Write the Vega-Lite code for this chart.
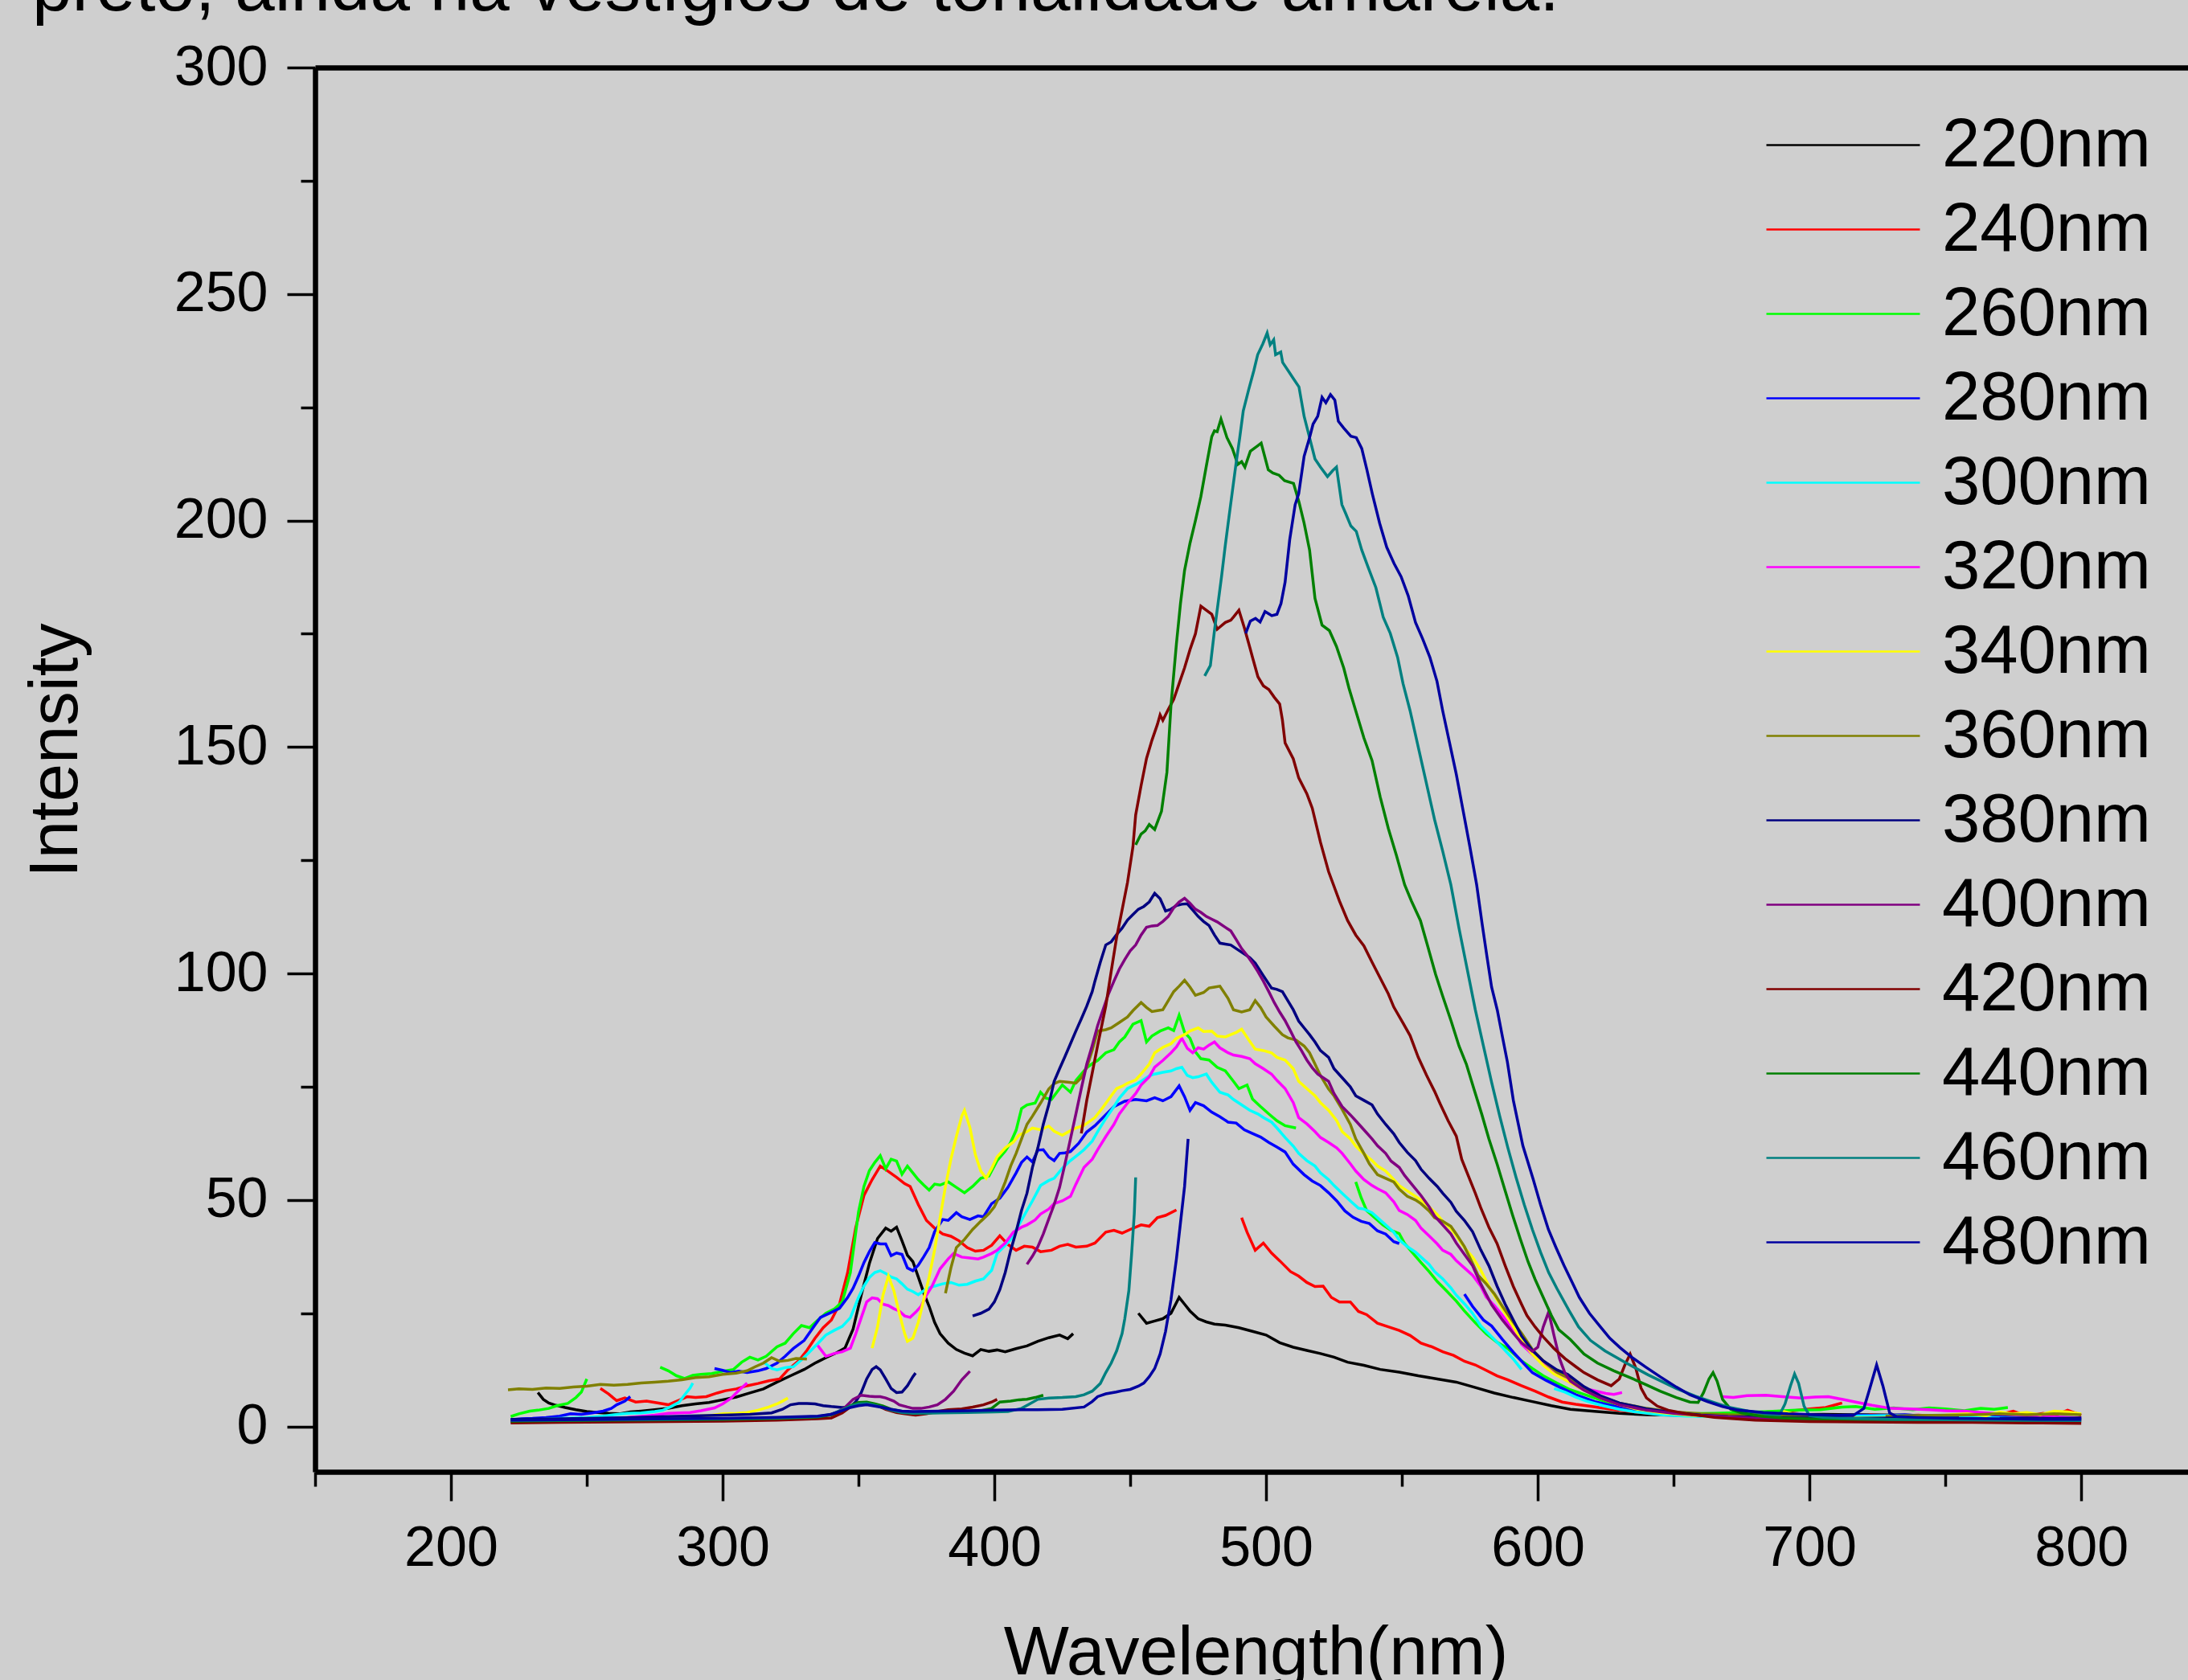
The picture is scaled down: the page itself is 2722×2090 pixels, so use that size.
{
"$schema":"https://vega.github.io/schema/vega-lite/v6.json",
"width":2330,"height":1747,
"autosize":{"type":"none"},
"padding":{"left":392,"top":84,"right":0,"bottom":259},
"background":"#cfcfcf",
"title":{"text":"preto, ainda há vestígios de tonalidade amarela.","anchor":"start","frame":"group","dx":-352,"dy":70,"offset":17,"baseline":"alphabetic","font":"Liberation Sans","fontSize":89,"fontWeight":"normal","color":"black"},
"config":{"view":{"stroke":null},
"axis":{"domainColor":"black","domainWidth":6.5,"tickColor":"black","tickWidth":3.5,"labelColor":"black","labelFont":"Liberation Sans","labelFontSize":70,"titleFont":"Liberation Sans","titleFontSize":86,"titleFontWeight":"normal","titleColor":"black","grid":false,"labelOverlap":false,"labelFlush":false,"labelBound":false}},
"layer":[
{"data":{"values":[
{"s":"220nm","g":1,"x":232,"y":7.5},{"s":"220nm","g":1,"x":234,"y":6},{"s":"220nm","g":1,"x":236,"y":5.2},{"s":"220nm","g":1,"x":238,"y":4.8},{"s":"220nm","g":1,"x":242,"y":4.2},{"s":"220nm","g":1,"x":246,"y":3.7},{"s":"220nm","g":1,"x":250,"y":3.3},{"s":"220nm","g":1,"x":254,"y":3.1},{"s":"220nm","g":1,"x":258,"y":2.9},{"s":"220nm","g":1,"x":262,"y":2.8},{"s":"220nm","g":1,"x":266,"y":3.2},{"s":"220nm","g":1,"x":270,"y":3.4},{"s":"220nm","g":1,"x":275,"y":3.7},{"s":"220nm","g":1,"x":280,"y":4},{"s":"220nm","g":1,"x":285,"y":4.6},{"s":"220nm","g":1,"x":290,"y":5},{"s":"220nm","g":1,"x":295,"y":5.3},{"s":"220nm","g":1,"x":300,"y":5.9},{"s":"220nm","g":1,"x":305,"y":6.5},{"s":"220nm","g":1,"x":310,"y":7.4},{"s":"220nm","g":1,"x":315,"y":8.3},{"s":"220nm","g":1,"x":320,"y":9.8},{"s":"220nm","g":1,"x":325,"y":11.2},{"s":"220nm","g":1,"x":330,"y":12.6},{"s":"220nm","g":1,"x":334,"y":14},{"s":"220nm","g":1,"x":338,"y":15.2},{"s":"220nm","g":1,"x":342,"y":16.3},{"s":"220nm","g":1,"x":345,"y":17.3},{"s":"220nm","g":1,"x":348,"y":21.5},{"s":"220nm","g":1,"x":351,"y":29},{"s":"220nm","g":1,"x":354,"y":36},{"s":"220nm","g":1,"x":357,"y":41.5},{"s":"220nm","g":1,"x":360,"y":43.8},{"s":"220nm","g":1,"x":362,"y":43.1},{"s":"220nm","g":1,"x":364,"y":44},{"s":"220nm","g":1,"x":366,"y":41},{"s":"220nm","g":1,"x":368,"y":37.8},{"s":"220nm","g":1,"x":370,"y":36.4},{"s":"220nm","g":1,"x":372,"y":33},{"s":"220nm","g":1,"x":374,"y":29.5},{"s":"220nm","g":1,"x":376,"y":26.5},{"s":"220nm","g":1,"x":378,"y":23},{"s":"220nm","g":1,"x":380,"y":20.5},{"s":"220nm","g":1,"x":383,"y":18.4},{"s":"220nm","g":1,"x":386,"y":17},{"s":"220nm","g":1,"x":389,"y":16.2},{"s":"220nm","g":1,"x":392,"y":15.6},{"s":"220nm","g":1,"x":395,"y":17},{"s":"220nm","g":1,"x":398,"y":16.6},{"s":"220nm","g":1,"x":401,"y":16.9},{"s":"220nm","g":1,"x":404,"y":16.5},{"s":"220nm","g":1,"x":408,"y":17.2},{"s":"220nm","g":1,"x":412,"y":17.8},{"s":"220nm","g":1,"x":416,"y":18.8},{"s":"220nm","g":1,"x":420,"y":19.6},{"s":"220nm","g":1,"x":424,"y":20.2},{"s":"220nm","g":1,"x":427,"y":19.4},{"s":"220nm","g":1,"x":429,"y":20.5},
{"s":"220nm","g":2,"x":453,"y":25},{"s":"220nm","g":2,"x":456,"y":22.8},{"s":"220nm","g":2,"x":459,"y":23.3},{"s":"220nm","g":2,"x":462,"y":23.8},{"s":"220nm","g":2,"x":465,"y":25},{"s":"220nm","g":2,"x":468,"y":28.5},{"s":"220nm","g":2,"x":470,"y":27},{"s":"220nm","g":2,"x":472,"y":25.5},{"s":"220nm","g":2,"x":475,"y":23.8},{"s":"220nm","g":2,"x":478,"y":23.1},{"s":"220nm","g":2,"x":481,"y":22.6},{"s":"220nm","g":2,"x":485,"y":22.4},{"s":"220nm","g":2,"x":490,"y":21.8},{"s":"220nm","g":2,"x":495,"y":21},{"s":"220nm","g":2,"x":500,"y":20.2},{"s":"220nm","g":2,"x":505,"y":18.5},{"s":"220nm","g":2,"x":510,"y":17.5},{"s":"220nm","g":2,"x":515,"y":16.8},{"s":"220nm","g":2,"x":520,"y":16.1},{"s":"220nm","g":2,"x":525,"y":15.3},{"s":"220nm","g":2,"x":530,"y":14.2},{"s":"220nm","g":2,"x":536,"y":13.5},{"s":"220nm","g":2,"x":542,"y":12.6},{"s":"220nm","g":2,"x":549,"y":12},{"s":"220nm","g":2,"x":556,"y":11.2},{"s":"220nm","g":2,"x":563,"y":10.5},{"s":"220nm","g":2,"x":570,"y":9.8},{"s":"220nm","g":2,"x":577,"y":8.6},{"s":"220nm","g":2,"x":584,"y":7.4},{"s":"220nm","g":2,"x":591,"y":6.4},{"s":"220nm","g":2,"x":598,"y":5.5},{"s":"220nm","g":2,"x":605,"y":4.6},{"s":"220nm","g":2,"x":612,"y":3.8},{"s":"220nm","g":2,"x":620,"y":3.4},{"s":"220nm","g":2,"x":630,"y":2.9},{"s":"220nm","g":2,"x":640,"y":2.6},{"s":"220nm","g":2,"x":650,"y":2.5},{"s":"220nm","g":2,"x":660,"y":2.4},{"s":"220nm","g":2,"x":675,"y":2.5},{"s":"220nm","g":2,"x":690,"y":2.6},{"s":"220nm","g":2,"x":705,"y":2.7},{"s":"220nm","g":2,"x":720,"y":2.6},{"s":"220nm","g":2,"x":735,"y":2.5},{"s":"220nm","g":2,"x":750,"y":2.3},{"s":"220nm","g":2,"x":765,"y":2.1},{"s":"220nm","g":2,"x":780,"y":2},{"s":"220nm","g":2,"x":800,"y":1.9},
{"s":"240nm","g":1,"x":255,"y":8.4},{"s":"240nm","g":1,"x":258,"y":7.2},{"s":"240nm","g":1,"x":261,"y":5.7},{"s":"240nm","g":1,"x":264,"y":6.3},{"s":"240nm","g":1,"x":268,"y":5.4},{"s":"240nm","g":1,"x":272,"y":5.6},{"s":"240nm","g":1,"x":276,"y":5.2},{"s":"240nm","g":1,"x":280,"y":4.8},{"s":"240nm","g":1,"x":284,"y":5.8},{"s":"240nm","g":1,"x":287,"y":6.6},{"s":"240nm","g":1,"x":290,"y":6.4},{"s":"240nm","g":1,"x":294,"y":6.6},{"s":"240nm","g":1,"x":298,"y":7.4},{"s":"240nm","g":1,"x":301,"y":7.9},{"s":"240nm","g":1,"x":305,"y":8.3},{"s":"240nm","g":1,"x":309,"y":9},{"s":"240nm","g":1,"x":313,"y":9.5},{"s":"240nm","g":1,"x":317,"y":10.1},{"s":"240nm","g":1,"x":321,"y":10.5},{"s":"240nm","g":1,"x":324,"y":12.5},{"s":"240nm","g":1,"x":328,"y":14.5},{"s":"240nm","g":1,"x":331,"y":16.8},{"s":"240nm","g":1,"x":334,"y":19.5},{"s":"240nm","g":1,"x":337,"y":21.8},{"s":"240nm","g":1,"x":340,"y":23.5},{"s":"240nm","g":1,"x":343,"y":27},{"s":"240nm","g":1,"x":346,"y":34},{"s":"240nm","g":1,"x":349,"y":44},{"s":"240nm","g":1,"x":352,"y":51},{"s":"240nm","g":1,"x":355,"y":54.5},{"s":"240nm","g":1,"x":358,"y":57.5},{"s":"240nm","g":1,"x":361,"y":56.3},{"s":"240nm","g":1,"x":364,"y":55},{"s":"240nm","g":1,"x":367,"y":53.6},{"s":"240nm","g":1,"x":369,"y":53},{"s":"240nm","g":1,"x":372,"y":49},{"s":"240nm","g":1,"x":375,"y":45.5},{"s":"240nm","g":1,"x":378,"y":43.8},{"s":"240nm","g":1,"x":381,"y":42.5},{"s":"240nm","g":1,"x":384,"y":42},{"s":"240nm","g":1,"x":387,"y":41},{"s":"240nm","g":1,"x":390,"y":39.5},{"s":"240nm","g":1,"x":393,"y":38.7},{"s":"240nm","g":1,"x":396,"y":38.9},{"s":"240nm","g":1,"x":399,"y":40},{"s":"240nm","g":1,"x":402,"y":42.1},{"s":"240nm","g":1,"x":405,"y":40.2},{"s":"240nm","g":1,"x":408,"y":38.9},{"s":"240nm","g":1,"x":411,"y":39.8},{"s":"240nm","g":1,"x":414,"y":39.6},{"s":"240nm","g":1,"x":417,"y":38.6},{"s":"240nm","g":1,"x":421,"y":38.9},{"s":"240nm","g":1,"x":424,"y":39.8},{"s":"240nm","g":1,"x":427,"y":40.2},{"s":"240nm","g":1,"x":430,"y":39.6},{"s":"240nm","g":1,"x":434,"y":39.8},{"s":"240nm","g":1,"x":437,"y":40.5},{"s":"240nm","g":1,"x":441,"y":42.9},{"s":"240nm","g":1,"x":444,"y":43.3},{"s":"240nm","g":1,"x":447,"y":42.7},{"s":"240nm","g":1,"x":450,"y":43.5},{"s":"240nm","g":1,"x":454,"y":44.5},{"s":"240nm","g":1,"x":457,"y":44.2},{"s":"240nm","g":1,"x":460,"y":46.1},{"s":"240nm","g":1,"x":463,"y":46.6},{"s":"240nm","g":1,"x":467,"y":47.8},
{"s":"240nm","g":2,"x":491,"y":46.1},{"s":"240nm","g":2,"x":493,"y":42.9},{"s":"240nm","g":2,"x":496,"y":38.9},{"s":"240nm","g":2,"x":499,"y":40.5},{"s":"240nm","g":2,"x":502,"y":38.3},{"s":"240nm","g":2,"x":505,"y":36.6},{"s":"240nm","g":2,"x":509,"y":34.2},{"s":"240nm","g":2,"x":512,"y":33.2},{"s":"240nm","g":2,"x":515,"y":31.8},{"s":"240nm","g":2,"x":518,"y":30.9},{"s":"240nm","g":2,"x":521,"y":31},{"s":"240nm","g":2,"x":524,"y":28.5},{"s":"240nm","g":2,"x":527,"y":27.5},{"s":"240nm","g":2,"x":531,"y":27.5},{"s":"240nm","g":2,"x":534,"y":25.4},{"s":"240nm","g":2,"x":537,"y":24.7},{"s":"240nm","g":2,"x":541,"y":22.8},{"s":"240nm","g":2,"x":545,"y":22},{"s":"240nm","g":2,"x":549,"y":21.2},{"s":"240nm","g":2,"x":553,"y":20.1},{"s":"240nm","g":2,"x":557,"y":18.4},{"s":"240nm","g":2,"x":561,"y":17.6},{"s":"240nm","g":2,"x":565,"y":16.5},{"s":"240nm","g":2,"x":569,"y":15.7},{"s":"240nm","g":2,"x":573,"y":14.4},{"s":"240nm","g":2,"x":577,"y":13.6},{"s":"240nm","g":2,"x":581,"y":12.4},{"s":"240nm","g":2,"x":585,"y":11.2},{"s":"240nm","g":2,"x":589,"y":10.3},{"s":"240nm","g":2,"x":594,"y":9},{"s":"240nm","g":2,"x":599,"y":7.8},{"s":"240nm","g":2,"x":604,"y":6.5},{"s":"240nm","g":2,"x":609,"y":5.4},{"s":"240nm","g":2,"x":614,"y":4.9},{"s":"240nm","g":2,"x":620,"y":4.4},{"s":"240nm","g":2,"x":627,"y":3.8},{"s":"240nm","g":2,"x":634,"y":3.3},{"s":"240nm","g":2,"x":641,"y":2.9},{"s":"240nm","g":2,"x":648,"y":2.6},{"s":"240nm","g":2,"x":655,"y":2.4},{"s":"240nm","g":2,"x":665,"y":2.5},{"s":"240nm","g":2,"x":675,"y":2.8},{"s":"240nm","g":2,"x":685,"y":3.2},{"s":"240nm","g":2,"x":693,"y":3.4},{"s":"240nm","g":2,"x":700,"y":3.9},{"s":"240nm","g":2,"x":706,"y":4.2},{"s":"240nm","g":2,"x":712,"y":5.2},
{"s":"240nm","g":3,"x":722,"y":2.6},{"s":"240nm","g":3,"x":730,"y":2.3},{"s":"240nm","g":3,"x":740,"y":2.5},{"s":"240nm","g":3,"x":750,"y":2.2},{"s":"240nm","g":3,"x":760,"y":2.6},{"s":"240nm","g":3,"x":768,"y":2.4},{"s":"240nm","g":3,"x":775,"y":3.4},{"s":"240nm","g":3,"x":780,"y":2.3},{"s":"240nm","g":3,"x":786,"y":2.9},{"s":"240nm","g":3,"x":790,"y":2.4},{"s":"240nm","g":3,"x":795,"y":3.6},{"s":"240nm","g":3,"x":800,"y":2.5},
{"s":"260nm","g":1,"x":222,"y":2.2},{"s":"260nm","g":1,"x":225,"y":2.8},{"s":"260nm","g":1,"x":229,"y":3.4},{"s":"260nm","g":1,"x":232,"y":3.6},{"s":"260nm","g":1,"x":236,"y":4},{"s":"260nm","g":1,"x":239,"y":4.6},{"s":"260nm","g":1,"x":243,"y":5.1},{"s":"260nm","g":1,"x":246,"y":6.4},{"s":"260nm","g":1,"x":248,"y":7.6},{"s":"260nm","g":1,"x":250,"y":10.5},
{"s":"260nm","g":2,"x":277,"y":13.1},{"s":"260nm","g":2,"x":280,"y":12.3},{"s":"260nm","g":2,"x":283,"y":11.2},{"s":"260nm","g":2,"x":286,"y":10.6},{"s":"260nm","g":2,"x":289,"y":11.3},{"s":"260nm","g":2,"x":292,"y":11.5},{"s":"260nm","g":2,"x":296,"y":11.7},{"s":"260nm","g":2,"x":300,"y":12.2},{"s":"260nm","g":2,"x":304,"y":12.6},{"s":"260nm","g":2,"x":307,"y":14.2},{"s":"260nm","g":2,"x":310,"y":15.3},{"s":"260nm","g":2,"x":313,"y":14.7},{"s":"260nm","g":2,"x":316,"y":15.5},{"s":"260nm","g":2,"x":320,"y":17.6},{"s":"260nm","g":2,"x":323,"y":18.4},{"s":"260nm","g":2,"x":326,"y":20.5},{"s":"260nm","g":2,"x":329,"y":22.3},{"s":"260nm","g":2,"x":332,"y":21.8},{"s":"260nm","g":2,"x":335,"y":23.5},{"s":"260nm","g":2,"x":338,"y":25},{"s":"260nm","g":2,"x":341,"y":25.9},{"s":"260nm","g":2,"x":344,"y":27.5},{"s":"260nm","g":2,"x":347,"y":34},{"s":"260nm","g":2,"x":350,"y":47.4},{"s":"260nm","g":2,"x":352,"y":53},{"s":"260nm","g":2,"x":354,"y":56.5},{"s":"260nm","g":2,"x":356,"y":58.3},{"s":"260nm","g":2,"x":358,"y":59.8},{"s":"260nm","g":2,"x":360,"y":56.9},{"s":"260nm","g":2,"x":362,"y":59},{"s":"260nm","g":2,"x":364,"y":58.6},{"s":"260nm","g":2,"x":366,"y":55.7},{"s":"260nm","g":2,"x":368,"y":57.5},{"s":"260nm","g":2,"x":370,"y":56},{"s":"260nm","g":2,"x":372,"y":54.5},{"s":"260nm","g":2,"x":374,"y":53.3},{"s":"260nm","g":2,"x":376,"y":52.2},{"s":"260nm","g":2,"x":378,"y":53.5},{"s":"260nm","g":2,"x":380,"y":53.3},{"s":"260nm","g":2,"x":383,"y":54},{"s":"260nm","g":2,"x":386,"y":52.8},{"s":"260nm","g":2,"x":389,"y":51.6},{"s":"260nm","g":2,"x":392,"y":53},{"s":"260nm","g":2,"x":395,"y":54.8},{"s":"260nm","g":2,"x":398,"y":55.3},{"s":"260nm","g":2,"x":401,"y":58.7},{"s":"260nm","g":2,"x":404,"y":60.8},{"s":"260nm","g":2,"x":406,"y":62.7},{"s":"260nm","g":2,"x":408,"y":65.4},{"s":"260nm","g":2,"x":410,"y":70.2},{"s":"260nm","g":2,"x":412,"y":71},{"s":"260nm","g":2,"x":415,"y":71.4},{"s":"260nm","g":2,"x":417,"y":73.8},{"s":"260nm","g":2,"x":419,"y":72.5},{"s":"260nm","g":2,"x":421,"y":72.2},{"s":"260nm","g":2,"x":423,"y":73.8},{"s":"260nm","g":2,"x":425,"y":75.4},{"s":"260nm","g":2,"x":428,"y":73.8},{"s":"260nm","g":2,"x":430,"y":76.4},{"s":"260nm","g":2,"x":432,"y":77.8},{"s":"260nm","g":2,"x":434,"y":79.2},{"s":"260nm","g":2,"x":436,"y":80.1},{"s":"260nm","g":2,"x":438,"y":80.8},{"s":"260nm","g":2,"x":441,"y":82.5},{"s":"260nm","g":2,"x":444,"y":83.2},{"s":"260nm","g":2,"x":446,"y":84.9},{"s":"260nm","g":2,"x":448,"y":86},{"s":"260nm","g":2,"x":451,"y":88.8},{"s":"260nm","g":2,"x":454,"y":89.6},{"s":"260nm","g":2,"x":456,"y":84.9},{"s":"260nm","g":2,"x":458,"y":86.2},{"s":"260nm","g":2,"x":461,"y":87.3},{"s":"260nm","g":2,"x":464,"y":88},{"s":"260nm","g":2,"x":466,"y":87.4},{"s":"260nm","g":2,"x":468,"y":90.8},{"s":"260nm","g":2,"x":470,"y":87},{"s":"260nm","g":2,"x":472,"y":85.7},{"s":"260nm","g":2,"x":474,"y":82.7},{"s":"260nm","g":2,"x":476,"y":81.2},{"s":"260nm","g":2,"x":479,"y":80.9},{"s":"260nm","g":2,"x":482,"y":79.3},{"s":"260nm","g":2,"x":485,"y":78.5},{"s":"260nm","g":2,"x":488,"y":76.2},{"s":"260nm","g":2,"x":490,"y":74.6},{"s":"260nm","g":2,"x":493,"y":75.4},{"s":"260nm","g":2,"x":495,"y":72.3},{"s":"260nm","g":2,"x":498,"y":70.6},{"s":"260nm","g":2,"x":501,"y":69},{"s":"260nm","g":2,"x":504,"y":67.5},{"s":"260nm","g":2,"x":507,"y":66.4},{"s":"260nm","g":2,"x":511,"y":65.9},
{"s":"260nm","g":3,"x":533,"y":54},{"s":"260nm","g":3,"x":535,"y":50.5},{"s":"260nm","g":3,"x":537,"y":47.7},{"s":"260nm","g":3,"x":540,"y":46.1},{"s":"260nm","g":3,"x":543,"y":44.5},{"s":"260nm","g":3,"x":546,"y":43.3},{"s":"260nm","g":3,"x":549,"y":42.6},{"s":"260nm","g":3,"x":551,"y":40.4},{"s":"260nm","g":3,"x":554,"y":38.3},{"s":"260nm","g":3,"x":557,"y":36.2},{"s":"260nm","g":3,"x":560,"y":34.2},{"s":"260nm","g":3,"x":563,"y":32},{"s":"260nm","g":3,"x":566,"y":30.2},{"s":"260nm","g":3,"x":570,"y":27.7},{"s":"260nm","g":3,"x":573,"y":25.5},{"s":"260nm","g":3,"x":577,"y":22.9},{"s":"260nm","g":3,"x":581,"y":20.5},{"s":"260nm","g":3,"x":585,"y":18.6},{"s":"260nm","g":3,"x":589,"y":17.2},{"s":"260nm","g":3,"x":594,"y":14.5},{"s":"260nm","g":3,"x":598,"y":12.8},{"s":"260nm","g":3,"x":602,"y":11.2},{"s":"260nm","g":3,"x":607,"y":9.6},{"s":"260nm","g":3,"x":612,"y":8.1},{"s":"260nm","g":3,"x":617,"y":7.1},{"s":"260nm","g":3,"x":624,"y":5.7},{"s":"260nm","g":3,"x":630,"y":4.7},{"s":"260nm","g":3,"x":636,"y":3.9},{"s":"260nm","g":3,"x":645,"y":3.3},{"s":"260nm","g":3,"x":655,"y":2.8},{"s":"260nm","g":3,"x":665,"y":2.9},{"s":"260nm","g":3,"x":675,"y":3.1},{"s":"260nm","g":3,"x":685,"y":3.3},{"s":"260nm","g":3,"x":695,"y":3.6},{"s":"260nm","g":3,"x":704,"y":3.7},{"s":"260nm","g":3,"x":712,"y":4.3},{"s":"260nm","g":3,"x":717,"y":4.4},{"s":"260nm","g":3,"x":724,"y":3.8},{"s":"260nm","g":3,"x":731,"y":4.1},{"s":"260nm","g":3,"x":738,"y":3.7},{"s":"260nm","g":3,"x":744,"y":4.1},{"s":"260nm","g":3,"x":750,"y":3.9},{"s":"260nm","g":3,"x":757,"y":3.5},{"s":"260nm","g":3,"x":763,"y":4},{"s":"260nm","g":3,"x":768,"y":3.8},{"s":"260nm","g":3,"x":773,"y":4.2},
{"s":"280nm","g":1,"x":222,"y":1.5},{"s":"280nm","g":1,"x":226,"y":1.7},{"s":"280nm","g":1,"x":230,"y":1.8},{"s":"280nm","g":1,"x":235,"y":2},{"s":"280nm","g":1,"x":240,"y":2.3},{"s":"280nm","g":1,"x":244,"y":2.8},{"s":"280nm","g":1,"x":248,"y":2.7},{"s":"280nm","g":1,"x":252,"y":3},{"s":"280nm","g":1,"x":256,"y":3.4},{"s":"280nm","g":1,"x":259,"y":4},{"s":"280nm","g":1,"x":261,"y":4.8},{"s":"280nm","g":1,"x":264,"y":5.6},{"s":"280nm","g":1,"x":266,"y":6.6},
{"s":"280nm","g":2,"x":297,"y":12.8},{"s":"280nm","g":2,"x":300,"y":12.4},{"s":"280nm","g":2,"x":303,"y":11.9},{"s":"280nm","g":2,"x":306,"y":12.2},{"s":"280nm","g":2,"x":309,"y":11.9},{"s":"280nm","g":2,"x":313,"y":12.3},{"s":"280nm","g":2,"x":316,"y":12.8},{"s":"280nm","g":2,"x":320,"y":14},{"s":"280nm","g":2,"x":323,"y":15.5},{"s":"280nm","g":2,"x":326,"y":17.2},{"s":"280nm","g":2,"x":330,"y":19},{"s":"280nm","g":2,"x":333,"y":21.6},{"s":"280nm","g":2,"x":336,"y":24.1},{"s":"280nm","g":2,"x":340,"y":25.2},{"s":"280nm","g":2,"x":343,"y":26.1},{"s":"280nm","g":2,"x":346,"y":28.5},{"s":"280nm","g":2,"x":348,"y":30.5},{"s":"280nm","g":2,"x":350,"y":33.2},{"s":"280nm","g":2,"x":352,"y":36.2},{"s":"280nm","g":2,"x":354,"y":38.6},{"s":"280nm","g":2,"x":356,"y":40.6},{"s":"280nm","g":2,"x":358,"y":40.3},{"s":"280nm","g":2,"x":360,"y":40.3},{"s":"280nm","g":2,"x":362,"y":37.7},{"s":"280nm","g":2,"x":364,"y":38.3},{"s":"280nm","g":2,"x":366,"y":38},{"s":"280nm","g":2,"x":368,"y":35},{"s":"280nm","g":2,"x":370,"y":34.4},{"s":"280nm","g":2,"x":372,"y":35.6},{"s":"280nm","g":2,"x":374,"y":37.5},{"s":"280nm","g":2,"x":376,"y":39.5},{"s":"280nm","g":2,"x":378,"y":43},{"s":"280nm","g":2,"x":381,"y":45.7},{"s":"280nm","g":2,"x":383,"y":45.5},{"s":"280nm","g":2,"x":386,"y":47.2},{"s":"280nm","g":2,"x":388,"y":46.3},{"s":"280nm","g":2,"x":391,"y":45.7},{"s":"280nm","g":2,"x":394,"y":46.5},{"s":"280nm","g":2,"x":396,"y":46.3},{"s":"280nm","g":2,"x":399,"y":49.2},{"s":"280nm","g":2,"x":402,"y":50.4},{"s":"280nm","g":2,"x":405,"y":52.8},{"s":"280nm","g":2,"x":408,"y":56},{"s":"280nm","g":2,"x":410,"y":58.3},{"s":"280nm","g":2,"x":412,"y":59.5},{"s":"280nm","g":2,"x":414,"y":58.4},{"s":"280nm","g":2,"x":416,"y":61},{"s":"280nm","g":2,"x":418,"y":61.1},{"s":"280nm","g":2,"x":420,"y":59.5},{"s":"280nm","g":2,"x":422,"y":58.7},{"s":"280nm","g":2,"x":424,"y":60.3},{"s":"280nm","g":2,"x":426,"y":60.4},{"s":"280nm","g":2,"x":428,"y":60.7},{"s":"280nm","g":2,"x":431,"y":62.5},{"s":"280nm","g":2,"x":434,"y":65},{"s":"280nm","g":2,"x":437,"y":66.4},{"s":"280nm","g":2,"x":440,"y":68.2},{"s":"280nm","g":2,"x":444,"y":70.6},{"s":"280nm","g":2,"x":448,"y":71.8},{"s":"280nm","g":2,"x":452,"y":72.2},{"s":"280nm","g":2,"x":456,"y":71.9},{"s":"280nm","g":2,"x":459,"y":72.6},{"s":"280nm","g":2,"x":462,"y":71.9},{"s":"280nm","g":2,"x":465,"y":72.8},{"s":"280nm","g":2,"x":468,"y":75.2},{"s":"280nm","g":2,"x":470,"y":72.8},{"s":"280nm","g":2,"x":472,"y":69.8},{"s":"280nm","g":2,"x":474,"y":71.5},{"s":"280nm","g":2,"x":477,"y":70.8},{"s":"280nm","g":2,"x":480,"y":69.4},{"s":"280nm","g":2,"x":483,"y":68.4},{"s":"280nm","g":2,"x":486,"y":67.2},{"s":"280nm","g":2,"x":489,"y":67},{"s":"280nm","g":2,"x":492,"y":65.5},{"s":"280nm","g":2,"x":495,"y":64.7},{"s":"280nm","g":2,"x":498,"y":63.9},{"s":"280nm","g":2,"x":501,"y":62.7},{"s":"280nm","g":2,"x":504,"y":61.7},{"s":"280nm","g":2,"x":507,"y":60.6},{"s":"280nm","g":2,"x":510,"y":57.9},{"s":"280nm","g":2,"x":514,"y":55.6},{"s":"280nm","g":2,"x":517,"y":54.2},{"s":"280nm","g":2,"x":520,"y":53.2},{"s":"280nm","g":2,"x":523,"y":51.6},{"s":"280nm","g":2,"x":526,"y":49.8},{"s":"280nm","g":2,"x":529,"y":47.6},{"s":"280nm","g":2,"x":532,"y":46.2},{"s":"280nm","g":2,"x":535,"y":45.3},{"s":"280nm","g":2,"x":538,"y":44.8},{"s":"280nm","g":2,"x":541,"y":43.2},{"s":"280nm","g":2,"x":544,"y":42.5},{"s":"280nm","g":2,"x":547,"y":40.8},{"s":"280nm","g":2,"x":549,"y":40.4},
{"s":"280nm","g":3,"x":573,"y":29.2},{"s":"280nm","g":3,"x":576,"y":26.5},{"s":"280nm","g":3,"x":580,"y":23.5},{"s":"280nm","g":3,"x":583,"y":22.2},{"s":"280nm","g":3,"x":587,"y":19.2},{"s":"280nm","g":3,"x":591,"y":16.4},{"s":"280nm","g":3,"x":595,"y":13.8},{"s":"280nm","g":3,"x":598,"y":11.9},{"s":"280nm","g":3,"x":603,"y":10.2},{"s":"280nm","g":3,"x":608,"y":8.7},{"s":"280nm","g":3,"x":614,"y":7},{"s":"280nm","g":3,"x":621,"y":5.5},{"s":"280nm","g":3,"x":628,"y":4.5},{"s":"280nm","g":3,"x":636,"y":3.6},{"s":"280nm","g":3,"x":645,"y":3},{"s":"280nm","g":3,"x":655,"y":2.4},{"s":"280nm","g":3,"x":670,"y":2.2},{"s":"280nm","g":3,"x":685,"y":2.1},{"s":"280nm","g":3,"x":700,"y":2.4},{"s":"280nm","g":3,"x":715,"y":2.5},{"s":"280nm","g":3,"x":728,"y":2.4},{"s":"280nm","g":3,"x":735,"y":2.6},{"s":"280nm","g":3,"x":745,"y":2.2},{"s":"280nm","g":3,"x":755,"y":2.1},{"s":"280nm","g":3,"x":765,"y":2.3},{"s":"280nm","g":3,"x":775,"y":2},{"s":"280nm","g":3,"x":785,"y":2.1},{"s":"280nm","g":3,"x":800,"y":1.9},
{"s":"300nm","g":1,"x":222,"y":1.3},{"s":"300nm","g":1,"x":230,"y":1.5},{"s":"300nm","g":1,"x":240,"y":1.8},{"s":"300nm","g":1,"x":250,"y":2},{"s":"300nm","g":1,"x":256,"y":2.3},{"s":"300nm","g":1,"x":260,"y":2.6},{"s":"300nm","g":1,"x":265,"y":2.9},{"s":"300nm","g":1,"x":270,"y":3},{"s":"300nm","g":1,"x":275,"y":3.3},{"s":"300nm","g":1,"x":278,"y":3.6},{"s":"300nm","g":1,"x":281,"y":4.4},{"s":"300nm","g":1,"x":284,"y":5.4},{"s":"300nm","g":1,"x":286,"y":7},{"s":"300nm","g":1,"x":288,"y":8.5},{"s":"300nm","g":1,"x":289,"y":9.6},
{"s":"300nm","g":2,"x":315,"y":14.3},{"s":"300nm","g":2,"x":318,"y":12.8},{"s":"300nm","g":2,"x":320,"y":12.5},{"s":"300nm","g":2,"x":323,"y":13},{"s":"300nm","g":2,"x":326,"y":13.2},{"s":"300nm","g":2,"x":329,"y":14.7},{"s":"300nm","g":2,"x":332,"y":16.5},{"s":"300nm","g":2,"x":335,"y":18.3},{"s":"300nm","g":2,"x":338,"y":20.2},{"s":"300nm","g":2,"x":341,"y":21.2},{"s":"300nm","g":2,"x":344,"y":22.1},{"s":"300nm","g":2,"x":347,"y":24},{"s":"300nm","g":2,"x":350,"y":28.5},{"s":"300nm","g":2,"x":352,"y":31},{"s":"300nm","g":2,"x":354,"y":32.9},{"s":"300nm","g":2,"x":356,"y":34},{"s":"300nm","g":2,"x":358,"y":34.4},{"s":"300nm","g":2,"x":360,"y":33.8},{"s":"300nm","g":2,"x":362,"y":33},{"s":"300nm","g":2,"x":364,"y":32.6},{"s":"300nm","g":2,"x":366,"y":31.5},{"s":"300nm","g":2,"x":368,"y":30.3},{"s":"300nm","g":2,"x":370,"y":29.8},{"s":"300nm","g":2,"x":372,"y":29.1},{"s":"300nm","g":2,"x":375,"y":30.4},{"s":"300nm","g":2,"x":378,"y":31},{"s":"300nm","g":2,"x":381,"y":31.5},{"s":"300nm","g":2,"x":384,"y":31.8},{"s":"300nm","g":2,"x":387,"y":31.2},{"s":"300nm","g":2,"x":390,"y":31.4},{"s":"300nm","g":2,"x":393,"y":32.1},{"s":"300nm","g":2,"x":396,"y":32.6},{"s":"300nm","g":2,"x":399,"y":34.5},{"s":"300nm","g":2,"x":401,"y":38.2},{"s":"300nm","g":2,"x":404,"y":40},{"s":"300nm","g":2,"x":406,"y":41.3},{"s":"300nm","g":2,"x":409,"y":44.5},{"s":"300nm","g":2,"x":412,"y":47.7},{"s":"300nm","g":2,"x":414,"y":49.8},{"s":"300nm","g":2,"x":417,"y":53.2},{"s":"300nm","g":2,"x":420,"y":54.3},{"s":"300nm","g":2,"x":422,"y":54.8},{"s":"300nm","g":2,"x":425,"y":57},{"s":"300nm","g":2,"x":428,"y":58.7},{"s":"300nm","g":2,"x":431,"y":60.1},{"s":"300nm","g":2,"x":433,"y":61.1},{"s":"300nm","g":2,"x":436,"y":63},{"s":"300nm","g":2,"x":438,"y":65.1},{"s":"300nm","g":2,"x":441,"y":68},{"s":"300nm","g":2,"x":444,"y":70.6},{"s":"300nm","g":2,"x":446,"y":72.5},{"s":"300nm","g":2,"x":449,"y":74.6},{"s":"300nm","g":2,"x":452,"y":75.5},{"s":"300nm","g":2,"x":454,"y":76.2},{"s":"300nm","g":2,"x":457,"y":77.4},{"s":"300nm","g":2,"x":459,"y":77.8},{"s":"300nm","g":2,"x":462,"y":78.2},{"s":"300nm","g":2,"x":465,"y":78.5},{"s":"300nm","g":2,"x":467,"y":79},{"s":"300nm","g":2,"x":469,"y":79.3},{"s":"300nm","g":2,"x":471,"y":77.5},{"s":"300nm","g":2,"x":473,"y":77},{"s":"300nm","g":2,"x":475,"y":77.2},{"s":"300nm","g":2,"x":478,"y":77.8},{"s":"300nm","g":2,"x":480,"y":76},{"s":"300nm","g":2,"x":483,"y":73.8},{"s":"300nm","g":2,"x":486,"y":73.2},{"s":"300nm","g":2,"x":488,"y":72.2},{"s":"300nm","g":2,"x":491,"y":71},{"s":"300nm","g":2,"x":494,"y":69.8},{"s":"300nm","g":2,"x":497,"y":69},{"s":"300nm","g":2,"x":499,"y":68.2},{"s":"300nm","g":2,"x":502,"y":67.2},{"s":"300nm","g":2,"x":504,"y":65.9},{"s":"300nm","g":2,"x":507,"y":63.8},{"s":"300nm","g":2,"x":510,"y":61.9},{"s":"300nm","g":2,"x":512,"y":60.3},{"s":"300nm","g":2,"x":515,"y":58.7},{"s":"300nm","g":2,"x":518,"y":57.5},{"s":"300nm","g":2,"x":520,"y":56},{"s":"300nm","g":2,"x":523,"y":54.5},{"s":"300nm","g":2,"x":525,"y":53.2},{"s":"300nm","g":2,"x":528,"y":51.5},{"s":"300nm","g":2,"x":531,"y":49.8},{"s":"300nm","g":2,"x":534,"y":48.2},{"s":"300nm","g":2,"x":536,"y":48},{"s":"300nm","g":2,"x":539,"y":47.2},{"s":"300nm","g":2,"x":541,"y":46.1},{"s":"300nm","g":2,"x":544,"y":44.5},{"s":"300nm","g":2,"x":547,"y":42.9},{"s":"300nm","g":2,"x":549,"y":41.2},{"s":"300nm","g":2,"x":552,"y":39.7},{"s":"300nm","g":2,"x":555,"y":38.5},{"s":"300nm","g":2,"x":557,"y":37.4},{"s":"300nm","g":2,"x":560,"y":35.8},{"s":"300nm","g":2,"x":562,"y":34.2},{"s":"300nm","g":2,"x":565,"y":32.6},{"s":"300nm","g":2,"x":568,"y":30.6},{"s":"300nm","g":2,"x":570,"y":29},{"s":"300nm","g":2,"x":573,"y":27.1},{"s":"300nm","g":2,"x":576,"y":25},{"s":"300nm","g":2,"x":579,"y":22.2},{"s":"300nm","g":2,"x":583,"y":19.8},{"s":"300nm","g":2,"x":587,"y":17.4},{"s":"300nm","g":2,"x":591,"y":14.9},{"s":"300nm","g":2,"x":594,"y":12.6},
{"s":"300nm","g":3,"x":606,"y":8.4},{"s":"300nm","g":3,"x":610,"y":7.6},{"s":"300nm","g":3,"x":614,"y":6.5},{"s":"300nm","g":3,"x":618,"y":5.6},{"s":"300nm","g":3,"x":624,"y":4.6},{"s":"300nm","g":3,"x":630,"y":3.8},{"s":"300nm","g":3,"x":636,"y":3.2},{"s":"300nm","g":3,"x":645,"y":2.6},{"s":"300nm","g":3,"x":655,"y":2.3},{"s":"300nm","g":3,"x":670,"y":2.1},{"s":"300nm","g":3,"x":685,"y":2},{"s":"300nm","g":3,"x":700,"y":2.1},{"s":"300nm","g":3,"x":715,"y":2.3},{"s":"300nm","g":3,"x":730,"y":2.4},{"s":"300nm","g":3,"x":742,"y":2.2},{"s":"300nm","g":3,"x":755,"y":2.1},{"s":"300nm","g":3,"x":770,"y":1.9},{"s":"300nm","g":3,"x":785,"y":1.8},{"s":"300nm","g":3,"x":800,"y":1.7},
{"s":"320nm","g":1,"x":222,"y":1.2},{"s":"320nm","g":1,"x":235,"y":1.4},{"s":"320nm","g":1,"x":250,"y":1.6},{"s":"320nm","g":1,"x":265,"y":2},{"s":"320nm","g":1,"x":275,"y":2.5},{"s":"320nm","g":1,"x":280,"y":2.9},{"s":"320nm","g":1,"x":284,"y":3},{"s":"320nm","g":1,"x":288,"y":3.1},{"s":"320nm","g":1,"x":292,"y":3.5},{"s":"320nm","g":1,"x":297,"y":4.1},{"s":"320nm","g":1,"x":300,"y":5},{"s":"320nm","g":1,"x":303,"y":6.2},{"s":"320nm","g":1,"x":306,"y":8},{"s":"320nm","g":1,"x":309,"y":9.6},
{"s":"320nm","g":2,"x":335,"y":17.9},{"s":"320nm","g":2,"x":338,"y":15.5},{"s":"320nm","g":2,"x":341,"y":16.1},{"s":"320nm","g":2,"x":344,"y":16.5},{"s":"320nm","g":2,"x":347,"y":17.3},{"s":"320nm","g":2,"x":349,"y":20.5},{"s":"320nm","g":2,"x":351,"y":24},{"s":"320nm","g":2,"x":353,"y":27.5},{"s":"320nm","g":2,"x":355,"y":28.4},{"s":"320nm","g":2,"x":357,"y":28.2},{"s":"320nm","g":2,"x":359,"y":27},{"s":"320nm","g":2,"x":361,"y":26.7},{"s":"320nm","g":2,"x":363,"y":26},{"s":"320nm","g":2,"x":365,"y":25.5},{"s":"320nm","g":2,"x":367,"y":24.4},{"s":"320nm","g":2,"x":369,"y":24.1},{"s":"320nm","g":2,"x":371,"y":25.2},{"s":"320nm","g":2,"x":373,"y":26.5},{"s":"320nm","g":2,"x":375,"y":29},{"s":"320nm","g":2,"x":377,"y":30.9},{"s":"320nm","g":2,"x":380,"y":34.8},{"s":"320nm","g":2,"x":383,"y":37},{"s":"320nm","g":2,"x":385,"y":38.2},{"s":"320nm","g":2,"x":388,"y":37.4},{"s":"320nm","g":2,"x":391,"y":37.2},{"s":"320nm","g":2,"x":394,"y":37},{"s":"320nm","g":2,"x":396,"y":37.4},{"s":"320nm","g":2,"x":399,"y":38.2},{"s":"320nm","g":2,"x":401,"y":38.9},{"s":"320nm","g":2,"x":404,"y":40.5},{"s":"320nm","g":2,"x":407,"y":42.9},{"s":"320nm","g":2,"x":410,"y":44},{"s":"320nm","g":2,"x":412,"y":44.5},{"s":"320nm","g":2,"x":415,"y":45.6},{"s":"320nm","g":2,"x":417,"y":46.9},{"s":"320nm","g":2,"x":420,"y":48},{"s":"320nm","g":2,"x":422,"y":49.2},{"s":"320nm","g":2,"x":425,"y":49.8},{"s":"320nm","g":2,"x":428,"y":50.8},{"s":"320nm","g":2,"x":430,"y":53.5},{"s":"320nm","g":2,"x":433,"y":57.2},{"s":"320nm","g":2,"x":436,"y":59},{"s":"320nm","g":2,"x":438,"y":61.1},{"s":"320nm","g":2,"x":441,"y":64},{"s":"320nm","g":2,"x":444,"y":66.7},{"s":"320nm","g":2,"x":446,"y":69},{"s":"320nm","g":2,"x":449,"y":71.4},{"s":"320nm","g":2,"x":452,"y":73.5},{"s":"320nm","g":2,"x":454,"y":75.4},{"s":"320nm","g":2,"x":457,"y":77.2},{"s":"320nm","g":2,"x":459,"y":79.3},{"s":"320nm","g":2,"x":462,"y":80.8},{"s":"320nm","g":2,"x":465,"y":82.5},{"s":"320nm","g":2,"x":467,"y":83.8},{"s":"320nm","g":2,"x":469,"y":85.7},{"s":"320nm","g":2,"x":471,"y":83.5},{"s":"320nm","g":2,"x":473,"y":82.5},{"s":"320nm","g":2,"x":475,"y":83.6},{"s":"320nm","g":2,"x":477,"y":83.3},{"s":"320nm","g":2,"x":479,"y":84.2},{"s":"320nm","g":2,"x":481,"y":84.9},{"s":"320nm","g":2,"x":483,"y":83.6},{"s":"320nm","g":2,"x":486,"y":82.5},{"s":"320nm","g":2,"x":488,"y":82},{"s":"320nm","g":2,"x":491,"y":81.7},{"s":"320nm","g":2,"x":494,"y":81.2},{"s":"320nm","g":2,"x":496,"y":80.1},{"s":"320nm","g":2,"x":499,"y":79},{"s":"320nm","g":2,"x":502,"y":77.8},{"s":"320nm","g":2,"x":504,"y":76.4},{"s":"320nm","g":2,"x":507,"y":74.6},{"s":"320nm","g":2,"x":510,"y":71.5},{"s":"320nm","g":2,"x":512,"y":68.2},{"s":"320nm","g":2,"x":515,"y":66.8},{"s":"320nm","g":2,"x":518,"y":65.1},{"s":"320nm","g":2,"x":520,"y":63.8},{"s":"320nm","g":2,"x":523,"y":62.7},{"s":"320nm","g":2,"x":526,"y":61.5},{"s":"320nm","g":2,"x":528,"y":60.3},{"s":"320nm","g":2,"x":531,"y":58},{"s":"320nm","g":2,"x":533,"y":56.4},{"s":"320nm","g":2,"x":536,"y":54.5},{"s":"320nm","g":2,"x":539,"y":53.2},{"s":"320nm","g":2,"x":541,"y":52.5},{"s":"320nm","g":2,"x":544,"y":51.6},{"s":"320nm","g":2,"x":547,"y":49.6},{"s":"320nm","g":2,"x":549,"y":47.7},{"s":"320nm","g":2,"x":552,"y":46.8},{"s":"320nm","g":2,"x":555,"y":45.5},{"s":"320nm","g":2,"x":557,"y":43.8},{"s":"320nm","g":2,"x":560,"y":42.1},{"s":"320nm","g":2,"x":563,"y":40.3},{"s":"320nm","g":2,"x":565,"y":38.9},{"s":"320nm","g":2,"x":568,"y":38},{"s":"320nm","g":2,"x":570,"y":36.6},{"s":"320nm","g":2,"x":573,"y":35},{"s":"320nm","g":2,"x":576,"y":33.4},{"s":"320nm","g":2,"x":579,"y":31},{"s":"320nm","g":2,"x":581,"y":28.6},{"s":"320nm","g":2,"x":584,"y":26.7},{"s":"320nm","g":2,"x":587,"y":24.5},{"s":"320nm","g":2,"x":591,"y":21.3},{"s":"320nm","g":2,"x":594,"y":18.2},{"s":"320nm","g":2,"x":599,"y":15.4},{"s":"320nm","g":2,"x":604,"y":12.7},{"s":"320nm","g":2,"x":610,"y":10.4},{"s":"320nm","g":2,"x":615,"y":8.7},{"s":"320nm","g":2,"x":620,"y":8},{"s":"320nm","g":2,"x":625,"y":7.3},{"s":"320nm","g":2,"x":628,"y":7.1},{"s":"320nm","g":2,"x":631,"y":7.5},
{"s":"320nm","g":3,"x":668,"y":6.6},{"s":"320nm","g":3,"x":672,"y":6.4},{"s":"320nm","g":3,"x":677,"y":6.8},{"s":"320nm","g":3,"x":684,"y":6.9},{"s":"320nm","g":3,"x":690,"y":6.6},{"s":"320nm","g":3,"x":697,"y":6.3},{"s":"320nm","g":3,"x":702,"y":6.5},{"s":"320nm","g":3,"x":707,"y":6.6},{"s":"320nm","g":3,"x":712,"y":6},{"s":"320nm","g":3,"x":717,"y":5.4},{"s":"320nm","g":3,"x":723,"y":4.7},{"s":"320nm","g":3,"x":730,"y":4},{"s":"320nm","g":3,"x":737,"y":3.9},{"s":"320nm","g":3,"x":744,"y":3.7},{"s":"320nm","g":3,"x":750,"y":3.5},{"s":"320nm","g":3,"x":757,"y":3.4},{"s":"320nm","g":3,"x":763,"y":3.1},{"s":"320nm","g":3,"x":770,"y":2.8},{"s":"320nm","g":3,"x":777,"y":2.5},{"s":"320nm","g":3,"x":783,"y":2.2},{"s":"320nm","g":3,"x":790,"y":2.1},{"s":"320nm","g":3,"x":795,"y":2},{"s":"320nm","g":3,"x":800,"y":1.9},
{"s":"340nm","g":1,"x":222,"y":1.2},{"s":"340nm","g":1,"x":240,"y":1.4},{"s":"340nm","g":1,"x":260,"y":1.7},{"s":"340nm","g":1,"x":280,"y":2},{"s":"340nm","g":1,"x":295,"y":2.4},{"s":"340nm","g":1,"x":300,"y":2.8},{"s":"340nm","g":1,"x":305,"y":2.9},{"s":"340nm","g":1,"x":309,"y":3.1},{"s":"340nm","g":1,"x":313,"y":3.6},{"s":"340nm","g":1,"x":317,"y":4.3},{"s":"340nm","g":1,"x":320,"y":5},{"s":"340nm","g":1,"x":322,"y":5.6},{"s":"340nm","g":1,"x":324,"y":6.3},
{"s":"340nm","g":2,"x":355,"y":17.3},{"s":"340nm","g":2,"x":357,"y":22},{"s":"340nm","g":2,"x":359,"y":29},{"s":"340nm","g":2,"x":361,"y":33.2},{"s":"340nm","g":2,"x":363,"y":30},{"s":"340nm","g":2,"x":365,"y":25},{"s":"340nm","g":2,"x":367,"y":20.5},{"s":"340nm","g":2,"x":368,"y":18.8},{"s":"340nm","g":2,"x":370,"y":19.5},{"s":"340nm","g":2,"x":372,"y":23},{"s":"340nm","g":2,"x":374,"y":28},{"s":"340nm","g":2,"x":376,"y":33},{"s":"340nm","g":2,"x":378,"y":39},{"s":"340nm","g":2,"x":380,"y":46},{"s":"340nm","g":2,"x":382,"y":53},{"s":"340nm","g":2,"x":384,"y":59},{"s":"340nm","g":2,"x":386,"y":64},{"s":"340nm","g":2,"x":388,"y":68.5},{"s":"340nm","g":2,"x":389,"y":69.8},{"s":"340nm","g":2,"x":391,"y":66},{"s":"340nm","g":2,"x":393,"y":60},{"s":"340nm","g":2,"x":395,"y":56.4},{"s":"340nm","g":2,"x":397,"y":54.8},{"s":"340nm","g":2,"x":399,"y":57},{"s":"340nm","g":2,"x":401,"y":59.5},{"s":"340nm","g":2,"x":404,"y":61.5},{"s":"340nm","g":2,"x":407,"y":62.8},{"s":"340nm","g":2,"x":409,"y":64.3},{"s":"340nm","g":2,"x":412,"y":65.1},{"s":"340nm","g":2,"x":414,"y":65.9},{"s":"340nm","g":2,"x":417,"y":65.5},{"s":"340nm","g":2,"x":420,"y":66.3},{"s":"340nm","g":2,"x":422,"y":65.2},{"s":"340nm","g":2,"x":425,"y":64.3},{"s":"340nm","g":2,"x":428,"y":65.3},{"s":"340nm","g":2,"x":430,"y":65.9},{"s":"340nm","g":2,"x":433,"y":66.5},{"s":"340nm","g":2,"x":437,"y":68.2},{"s":"340nm","g":2,"x":440,"y":70.5},{"s":"340nm","g":2,"x":443,"y":73},{"s":"340nm","g":2,"x":445,"y":74.6},{"s":"340nm","g":2,"x":447,"y":75.1},{"s":"340nm","g":2,"x":449,"y":75.8},{"s":"340nm","g":2,"x":452,"y":76.5},{"s":"340nm","g":2,"x":454,"y":77.8},{"s":"340nm","g":2,"x":457,"y":80},{"s":"340nm","g":2,"x":459,"y":82.5},{"s":"340nm","g":2,"x":462,"y":83.7},{"s":"340nm","g":2,"x":465,"y":84.5},{"s":"340nm","g":2,"x":467,"y":85.7},{"s":"340nm","g":2,"x":470,"y":86.5},{"s":"340nm","g":2,"x":472,"y":87.3},{"s":"340nm","g":2,"x":475,"y":88},{"s":"340nm","g":2,"x":477,"y":87.2},{"s":"340nm","g":2,"x":480,"y":87.3},{"s":"340nm","g":2,"x":482,"y":86.2},{"s":"340nm","g":2,"x":485,"y":86},{"s":"340nm","g":2,"x":487,"y":86.5},{"s":"340nm","g":2,"x":489,"y":87},{"s":"340nm","g":2,"x":491,"y":87.7},{"s":"340nm","g":2,"x":494,"y":85},{"s":"340nm","g":2,"x":496,"y":83.3},{"s":"340nm","g":2,"x":499,"y":83},{"s":"340nm","g":2,"x":502,"y":82.5},{"s":"340nm","g":2,"x":504,"y":81.5},{"s":"340nm","g":2,"x":507,"y":80.9},{"s":"340nm","g":2,"x":510,"y":79},{"s":"340nm","g":2,"x":512,"y":76.2},{"s":"340nm","g":2,"x":515,"y":74.6},{"s":"340nm","g":2,"x":518,"y":73},{"s":"340nm","g":2,"x":520,"y":71.5},{"s":"340nm","g":2,"x":523,"y":69.8},{"s":"340nm","g":2,"x":526,"y":67.5},{"s":"340nm","g":2,"x":528,"y":65.1},{"s":"340nm","g":2,"x":531,"y":63.5},{"s":"340nm","g":2,"x":533,"y":61.9},{"s":"340nm","g":2,"x":536,"y":60.2},{"s":"340nm","g":2,"x":539,"y":58.7},{"s":"340nm","g":2,"x":541,"y":57.5},{"s":"340nm","g":2,"x":544,"y":56.4},{"s":"340nm","g":2,"x":547,"y":54.5},{"s":"340nm","g":2,"x":549,"y":53.2},{"s":"340nm","g":2,"x":552,"y":52},{"s":"340nm","g":2,"x":555,"y":50.8},{"s":"340nm","g":2,"x":557,"y":50},{"s":"340nm","g":2,"x":560,"y":48.5},{"s":"340nm","g":2,"x":563,"y":46.8},{"s":"340nm","g":2,"x":565,"y":45.3},{"s":"340nm","g":2,"x":568,"y":43.7},{"s":"340nm","g":2,"x":570,"y":42.1},{"s":"340nm","g":2,"x":573,"y":39.5},{"s":"340nm","g":2,"x":576,"y":37.4},{"s":"340nm","g":2,"x":579,"y":34.5},{"s":"340nm","g":2,"x":582,"y":31},{"s":"340nm","g":2,"x":585,"y":28},{"s":"340nm","g":2,"x":588,"y":25},{"s":"340nm","g":2,"x":591,"y":22},{"s":"340nm","g":2,"x":594,"y":19},{"s":"340nm","g":2,"x":598,"y":16},{"s":"340nm","g":2,"x":602,"y":13.5},{"s":"340nm","g":2,"x":606,"y":11.6},{"s":"340nm","g":2,"x":611,"y":10},{"s":"340nm","g":2,"x":617,"y":8},{"s":"340nm","g":2,"x":623,"y":6.3},{"s":"340nm","g":2,"x":630,"y":4.8},{"s":"340nm","g":2,"x":636,"y":3.9},{"s":"340nm","g":2,"x":645,"y":3.1},{"s":"340nm","g":2,"x":655,"y":2.5},{"s":"340nm","g":2,"x":665,"y":2.2},{"s":"340nm","g":2,"x":672,"y":2.1},
{"s":"340nm","g":3,"x":690,"y":3.4},{"s":"340nm","g":3,"x":695,"y":2.6},{"s":"340nm","g":3,"x":700,"y":2.2},{"s":"340nm","g":3,"x":710,"y":2},{"s":"340nm","g":3,"x":720,"y":1.9},{"s":"340nm","g":3,"x":730,"y":2},{"s":"340nm","g":3,"x":740,"y":2.3},{"s":"340nm","g":3,"x":750,"y":2.5},{"s":"340nm","g":3,"x":758,"y":2.8},{"s":"340nm","g":3,"x":765,"y":2.4},{"s":"340nm","g":3,"x":770,"y":3.2},{"s":"340nm","g":3,"x":775,"y":2.8},{"s":"340nm","g":3,"x":780,"y":3.1},{"s":"340nm","g":3,"x":785,"y":2.6},{"s":"340nm","g":3,"x":790,"y":3.4},{"s":"340nm","g":3,"x":795,"y":3.2},{"s":"340nm","g":3,"x":800,"y":2.8},
{"s":"360nm","g":1,"x":221,"y":8.1},{"s":"360nm","g":1,"x":225,"y":8.3},{"s":"360nm","g":1,"x":230,"y":8.2},{"s":"360nm","g":1,"x":235,"y":8.5},{"s":"360nm","g":1,"x":240,"y":8.4},{"s":"360nm","g":1,"x":245,"y":8.7},{"s":"360nm","g":1,"x":250,"y":8.9},{"s":"360nm","g":1,"x":255,"y":9.3},{"s":"360nm","g":1,"x":260,"y":9.1},{"s":"360nm","g":1,"x":265,"y":9.3},{"s":"360nm","g":1,"x":270,"y":9.6},{"s":"360nm","g":1,"x":275,"y":9.8},{"s":"360nm","g":1,"x":280,"y":10},{"s":"360nm","g":1,"x":285,"y":10.3},{"s":"360nm","g":1,"x":290,"y":10.8},{"s":"360nm","g":1,"x":295,"y":11},{"s":"360nm","g":1,"x":300,"y":11.5},{"s":"360nm","g":1,"x":305,"y":11.8},{"s":"360nm","g":1,"x":309,"y":12.3},{"s":"360nm","g":1,"x":312,"y":13.2},{"s":"360nm","g":1,"x":315,"y":14},{"s":"360nm","g":1,"x":318,"y":15.2},{"s":"360nm","g":1,"x":321,"y":14.4},{"s":"360nm","g":1,"x":324,"y":14.6},{"s":"360nm","g":1,"x":327,"y":15},{"s":"360nm","g":1,"x":331,"y":14.9},
{"s":"360nm","g":2,"x":382,"y":29.4},{"s":"360nm","g":2,"x":384,"y":35},{"s":"360nm","g":2,"x":386,"y":39.5},{"s":"360nm","g":2,"x":389,"y":41.3},{"s":"360nm","g":2,"x":392,"y":43.5},{"s":"360nm","g":2,"x":395,"y":45.3},{"s":"360nm","g":2,"x":398,"y":47},{"s":"360nm","g":2,"x":400,"y":48.5},{"s":"360nm","g":2,"x":402,"y":51},{"s":"360nm","g":2,"x":404,"y":54},{"s":"360nm","g":2,"x":406,"y":57.5},{"s":"360nm","g":2,"x":408,"y":60.3},{"s":"360nm","g":2,"x":410,"y":63.5},{"s":"360nm","g":2,"x":412,"y":66.7},{"s":"360nm","g":2,"x":414,"y":68.5},{"s":"360nm","g":2,"x":417,"y":71.4},{"s":"360nm","g":2,"x":420,"y":74.5},{"s":"360nm","g":2,"x":422,"y":75.7},{"s":"360nm","g":2,"x":424,"y":76.2},{"s":"360nm","g":2,"x":427,"y":76},{"s":"360nm","g":2,"x":430,"y":75.8},{"s":"360nm","g":2,"x":432,"y":77},{"s":"360nm","g":2,"x":434,"y":79.3},{"s":"360nm","g":2,"x":436,"y":83},{"s":"360nm","g":2,"x":438,"y":87.3},{"s":"360nm","g":2,"x":441,"y":87.6},{"s":"360nm","g":2,"x":443,"y":88},{"s":"360nm","g":2,"x":446,"y":89.2},{"s":"360nm","g":2,"x":449,"y":90.4},{"s":"360nm","g":2,"x":451,"y":91.8},{"s":"360nm","g":2,"x":454,"y":93.6},{"s":"360nm","g":2,"x":456,"y":92.5},{"s":"360nm","g":2,"x":458,"y":91.6},{"s":"360nm","g":2,"x":460,"y":91.8},{"s":"360nm","g":2,"x":462,"y":92},{"s":"360nm","g":2,"x":464,"y":94},{"s":"360nm","g":2,"x":466,"y":96},{"s":"360nm","g":2,"x":468,"y":97.2},{"s":"360nm","g":2,"x":470,"y":98.5},{"s":"360nm","g":2,"x":472,"y":97},{"s":"360nm","g":2,"x":474,"y":95.2},{"s":"360nm","g":2,"x":477,"y":95.8},{"s":"360nm","g":2,"x":479,"y":96.8},{"s":"360nm","g":2,"x":481,"y":97},{"s":"360nm","g":2,"x":483,"y":97.2},{"s":"360nm","g":2,"x":486,"y":94.5},{"s":"360nm","g":2,"x":488,"y":92},{"s":"360nm","g":2,"x":491,"y":91.5},{"s":"360nm","g":2,"x":494,"y":92},{"s":"360nm","g":2,"x":496,"y":94},{"s":"360nm","g":2,"x":498,"y":92.5},{"s":"360nm","g":2,"x":500,"y":90.4},{"s":"360nm","g":2,"x":503,"y":88.4},{"s":"360nm","g":2,"x":506,"y":86.5},{"s":"360nm","g":2,"x":508,"y":85.8},{"s":"360nm","g":2,"x":511,"y":85.3},{"s":"360nm","g":2,"x":514,"y":84},{"s":"360nm","g":2,"x":516,"y":82.5},{"s":"360nm","g":2,"x":518,"y":80},{"s":"360nm","g":2,"x":520,"y":77.5},{"s":"360nm","g":2,"x":523,"y":74.5},{"s":"360nm","g":2,"x":525,"y":73},{"s":"360nm","g":2,"x":528,"y":70},{"s":"360nm","g":2,"x":531,"y":66.7},{"s":"360nm","g":2,"x":533,"y":63.5},{"s":"360nm","g":2,"x":536,"y":60.3},{"s":"360nm","g":2,"x":538,"y":58},{"s":"360nm","g":2,"x":541,"y":55.6},{"s":"360nm","g":2,"x":544,"y":54.8},{"s":"360nm","g":2,"x":547,"y":54},{"s":"360nm","g":2,"x":549,"y":52.4},{"s":"360nm","g":2,"x":552,"y":50.8},{"s":"360nm","g":2,"x":555,"y":50},{"s":"360nm","g":2,"x":557,"y":49.2},{"s":"360nm","g":2,"x":560,"y":47.6},{"s":"360nm","g":2,"x":562,"y":46.1},{"s":"360nm","g":2,"x":565,"y":45.3},{"s":"360nm","g":2,"x":568,"y":44.2},{"s":"360nm","g":2,"x":570,"y":42.5},{"s":"360nm","g":2,"x":573,"y":39.7},{"s":"360nm","g":2,"x":576,"y":36},{"s":"360nm","g":2,"x":578,"y":33.4},{"s":"360nm","g":2,"x":581,"y":31.5},{"s":"360nm","g":2,"x":584,"y":29.3},{"s":"360nm","g":2,"x":587,"y":26.5},{"s":"360nm","g":2,"x":591,"y":23},{"s":"360nm","g":2,"x":594,"y":20.6},{"s":"360nm","g":2,"x":598,"y":17},{"s":"360nm","g":2,"x":602,"y":14.5},{"s":"360nm","g":2,"x":607,"y":12},{"s":"360nm","g":2,"x":611,"y":10.8},{"s":"360nm","g":2,"x":617,"y":8.4},{"s":"360nm","g":2,"x":623,"y":6.6},{"s":"360nm","g":2,"x":630,"y":5.2},{"s":"360nm","g":2,"x":640,"y":4},{"s":"360nm","g":2,"x":650,"y":3.2},{"s":"360nm","g":2,"x":660,"y":2.8},{"s":"360nm","g":2,"x":670,"y":2.6},{"s":"360nm","g":2,"x":680,"y":2.5},{"s":"360nm","g":2,"x":690,"y":2.4},{"s":"360nm","g":2,"x":700,"y":2.3},{"s":"360nm","g":2,"x":710,"y":2.2},
{"s":"360nm","g":3,"x":728,"y":2.3},{"s":"360nm","g":3,"x":740,"y":2.4},{"s":"360nm","g":3,"x":750,"y":2.5},{"s":"360nm","g":3,"x":760,"y":2.6},{"s":"360nm","g":3,"x":770,"y":2.8},{"s":"360nm","g":3,"x":780,"y":2.6},{"s":"360nm","g":3,"x":790,"y":2.8},{"s":"360nm","g":3,"x":800,"y":2.6},
{"s":"380nm","g":1,"x":222,"y":1.6},{"s":"380nm","g":1,"x":240,"y":1.7},{"s":"380nm","g":1,"x":260,"y":1.9},{"s":"380nm","g":1,"x":280,"y":2.2},{"s":"380nm","g":1,"x":300,"y":2.5},{"s":"380nm","g":1,"x":310,"y":2.7},{"s":"380nm","g":1,"x":318,"y":3},{"s":"380nm","g":1,"x":322,"y":3.8},{"s":"380nm","g":1,"x":325,"y":4.8},{"s":"380nm","g":1,"x":328,"y":5.1},{"s":"380nm","g":1,"x":331,"y":5.1},{"s":"380nm","g":1,"x":334,"y":5},{"s":"380nm","g":1,"x":337,"y":4.6},{"s":"380nm","g":1,"x":340,"y":4.4},{"s":"380nm","g":1,"x":344,"y":4.2},{"s":"380nm","g":1,"x":347,"y":4.3},{"s":"380nm","g":1,"x":349,"y":5.5},{"s":"380nm","g":1,"x":351,"y":7.5},{"s":"380nm","g":1,"x":353,"y":10.5},{"s":"380nm","g":1,"x":355,"y":12.6},{"s":"380nm","g":1,"x":356.5,"y":13.2},{"s":"380nm","g":1,"x":358,"y":12.5},{"s":"380nm","g":1,"x":360,"y":10.5},{"s":"380nm","g":1,"x":362,"y":8.4},{"s":"380nm","g":1,"x":364,"y":7.5},{"s":"380nm","g":1,"x":366,"y":7.6},{"s":"380nm","g":1,"x":368,"y":9},{"s":"380nm","g":1,"x":370,"y":11},{"s":"380nm","g":1,"x":371,"y":11.8},
{"s":"380nm","g":2,"x":392,"y":24.4},{"s":"380nm","g":2,"x":395,"y":25},{"s":"380nm","g":2,"x":398,"y":25.9},{"s":"380nm","g":2,"x":400,"y":27.5},{"s":"380nm","g":2,"x":402,"y":30.2},{"s":"380nm","g":2,"x":404,"y":34},{"s":"380nm","g":2,"x":406,"y":38.9},{"s":"380nm","g":2,"x":408,"y":43},{"s":"380nm","g":2,"x":410,"y":47.7},{"s":"380nm","g":2,"x":412,"y":51.5},{"s":"380nm","g":2,"x":414,"y":57.2},{"s":"380nm","g":2,"x":416,"y":61.5},{"s":"380nm","g":2,"x":418,"y":66.7},{"s":"380nm","g":2,"x":420,"y":71},{"s":"380nm","g":2,"x":422,"y":76.2},{"s":"380nm","g":2,"x":424,"y":79},{"s":"380nm","g":2,"x":426,"y":81.7},{"s":"380nm","g":2,"x":428,"y":84.5},{"s":"380nm","g":2,"x":430,"y":87.3},{"s":"380nm","g":2,"x":432,"y":90},{"s":"380nm","g":2,"x":434,"y":92.8},{"s":"380nm","g":2,"x":436,"y":96},{"s":"380nm","g":2,"x":437,"y":98.3},{"s":"380nm","g":2,"x":439,"y":102.5},{"s":"380nm","g":2,"x":441,"y":106.3},{"s":"380nm","g":2,"x":443,"y":107},{"s":"380nm","g":2,"x":445,"y":108.6},{"s":"380nm","g":2,"x":447,"y":110},{"s":"380nm","g":2,"x":449,"y":111.8},{"s":"380nm","g":2,"x":451,"y":113},{"s":"380nm","g":2,"x":453,"y":114.2},{"s":"380nm","g":2,"x":455,"y":114.8},{"s":"380nm","g":2,"x":457,"y":115.8},{"s":"380nm","g":2,"x":459,"y":117.7},{"s":"380nm","g":2,"x":461,"y":116.5},{"s":"380nm","g":2,"x":463,"y":113.8},{"s":"380nm","g":2,"x":465,"y":114.2},{"s":"380nm","g":2,"x":467,"y":115},{"s":"380nm","g":2,"x":469,"y":115.3},{"s":"380nm","g":2,"x":471,"y":115.4},{"s":"380nm","g":2,"x":473,"y":114},{"s":"380nm","g":2,"x":475,"y":112.6},{"s":"380nm","g":2,"x":477,"y":111.5},{"s":"380nm","g":2,"x":479,"y":110.6},{"s":"380nm","g":2,"x":481,"y":108.5},{"s":"380nm","g":2,"x":483,"y":106.7},{"s":"380nm","g":2,"x":485,"y":106.5},{"s":"380nm","g":2,"x":487,"y":106.3},{"s":"380nm","g":2,"x":489,"y":105.5},{"s":"380nm","g":2,"x":491,"y":104.7},{"s":"380nm","g":2,"x":494,"y":103.5},{"s":"380nm","g":2,"x":496,"y":102.3},{"s":"380nm","g":2,"x":499,"y":99.5},{"s":"380nm","g":2,"x":502,"y":96.8},{"s":"380nm","g":2,"x":504,"y":96.5},{"s":"380nm","g":2,"x":506,"y":96},{"s":"380nm","g":2,"x":508,"y":94},{"s":"380nm","g":2,"x":510,"y":92},{"s":"380nm","g":2,"x":512,"y":89.5},{"s":"380nm","g":2,"x":514,"y":88},{"s":"380nm","g":2,"x":516,"y":86.5},{"s":"380nm","g":2,"x":518,"y":84.9},{"s":"380nm","g":2,"x":520,"y":83},{"s":"380nm","g":2,"x":523,"y":81.5},{"s":"380nm","g":2,"x":525,"y":79},{"s":"380nm","g":2,"x":528,"y":77},{"s":"380nm","g":2,"x":531,"y":75},{"s":"380nm","g":2,"x":533,"y":73},{"s":"380nm","g":2,"x":536,"y":72},{"s":"380nm","g":2,"x":539,"y":71},{"s":"380nm","g":2,"x":541,"y":69},{"s":"380nm","g":2,"x":544,"y":66.7},{"s":"380nm","g":2,"x":547,"y":64.6},{"s":"380nm","g":2,"x":549,"y":62.7},{"s":"380nm","g":2,"x":552,"y":60.5},{"s":"380nm","g":2,"x":555,"y":58.7},{"s":"380nm","g":2,"x":557,"y":56.8},{"s":"380nm","g":2,"x":560,"y":54.8},{"s":"380nm","g":2,"x":563,"y":53},{"s":"380nm","g":2,"x":565,"y":51.5},{"s":"380nm","g":2,"x":568,"y":49.5},{"s":"380nm","g":2,"x":570,"y":47.5},{"s":"380nm","g":2,"x":573,"y":45.5},{"s":"380nm","g":2,"x":576,"y":43},{"s":"380nm","g":2,"x":579,"y":39},{"s":"380nm","g":2,"x":582,"y":35.5},{"s":"380nm","g":2,"x":585,"y":31},{"s":"380nm","g":2,"x":588,"y":27},{"s":"380nm","g":2,"x":591,"y":23.5},{"s":"380nm","g":2,"x":594,"y":20},{"s":"380nm","g":2,"x":598,"y":16.8},{"s":"380nm","g":2,"x":602,"y":14.5},{"s":"380nm","g":2,"x":607,"y":12.5},{"s":"380nm","g":2,"x":611,"y":11.5},{"s":"380nm","g":2,"x":617,"y":8.8},{"s":"380nm","g":2,"x":623,"y":6.8},{"s":"380nm","g":2,"x":630,"y":5.2},{"s":"380nm","g":2,"x":640,"y":3.9},{"s":"380nm","g":2,"x":650,"y":3.1},{"s":"380nm","g":2,"x":660,"y":2.5},{"s":"380nm","g":2,"x":670,"y":2.2},{"s":"380nm","g":2,"x":685,"y":2},{"s":"380nm","g":2,"x":700,"y":1.9},{"s":"380nm","g":2,"x":715,"y":1.8},{"s":"380nm","g":2,"x":730,"y":1.9},{"s":"380nm","g":2,"x":745,"y":1.8},{"s":"380nm","g":2,"x":755,"y":1.9},
{"s":"380nm","g":3,"x":770,"y":1.8},{"s":"380nm","g":3,"x":780,"y":1.9},{"s":"380nm","g":3,"x":790,"y":1.8},{"s":"380nm","g":3,"x":800,"y":1.9},
{"s":"400nm","g":1,"x":222,"y":1},{"s":"400nm","g":1,"x":240,"y":1.1},{"s":"400nm","g":1,"x":260,"y":1.2},{"s":"400nm","g":1,"x":280,"y":1.3},{"s":"400nm","g":1,"x":300,"y":1.5},{"s":"400nm","g":1,"x":320,"y":1.7},{"s":"400nm","g":1,"x":333,"y":1.9},{"s":"400nm","g":1,"x":338,"y":2.4},{"s":"400nm","g":1,"x":342,"y":3.1},{"s":"400nm","g":1,"x":345,"y":4.2},{"s":"400nm","g":1,"x":348,"y":6},{"s":"400nm","g":1,"x":351,"y":6.9},{"s":"400nm","g":1,"x":354,"y":6.7},{"s":"400nm","g":1,"x":356,"y":6.6},{"s":"400nm","g":1,"x":358,"y":6.6},{"s":"400nm","g":1,"x":360,"y":6.3},{"s":"400nm","g":1,"x":363,"y":5.6},{"s":"400nm","g":1,"x":365,"y":4.8},{"s":"400nm","g":1,"x":368,"y":4.3},{"s":"400nm","g":1,"x":370,"y":4},{"s":"400nm","g":1,"x":373,"y":4},{"s":"400nm","g":1,"x":376,"y":4.3},{"s":"400nm","g":1,"x":379,"y":4.8},{"s":"400nm","g":1,"x":382,"y":6},{"s":"400nm","g":1,"x":385,"y":7.8},{"s":"400nm","g":1,"x":388,"y":10.3},{"s":"400nm","g":1,"x":391,"y":12.2},
{"s":"400nm","g":2,"x":412,"y":35.8},{"s":"400nm","g":2,"x":414,"y":37.6},{"s":"400nm","g":2,"x":416,"y":39.7},{"s":"400nm","g":2,"x":418,"y":42.5},{"s":"400nm","g":2,"x":420,"y":45.8},{"s":"400nm","g":2,"x":422,"y":49},{"s":"400nm","g":2,"x":424,"y":52.8},{"s":"400nm","g":2,"x":426,"y":58},{"s":"400nm","g":2,"x":428,"y":63.5},{"s":"400nm","g":2,"x":430,"y":69},{"s":"400nm","g":2,"x":432,"y":74.6},{"s":"400nm","g":2,"x":434,"y":80},{"s":"400nm","g":2,"x":436,"y":84.1},{"s":"400nm","g":2,"x":438,"y":88.5},{"s":"400nm","g":2,"x":440,"y":92},{"s":"400nm","g":2,"x":442,"y":95.5},{"s":"400nm","g":2,"x":444,"y":98.3},{"s":"400nm","g":2,"x":446,"y":101},{"s":"400nm","g":2,"x":448,"y":103.1},{"s":"400nm","g":2,"x":450,"y":105},{"s":"400nm","g":2,"x":452,"y":106.3},{"s":"400nm","g":2,"x":454,"y":108.5},{"s":"400nm","g":2,"x":456,"y":110.2},{"s":"400nm","g":2,"x":458,"y":110.5},{"s":"400nm","g":2,"x":460,"y":110.6},{"s":"400nm","g":2,"x":462,"y":111.5},{"s":"400nm","g":2,"x":464,"y":112.6},{"s":"400nm","g":2,"x":466,"y":114.5},{"s":"400nm","g":2,"x":468,"y":115.8},{"s":"400nm","g":2,"x":470,"y":116.6},{"s":"400nm","g":2,"x":472,"y":115.5},{"s":"400nm","g":2,"x":474,"y":114.2},{"s":"400nm","g":2,"x":476,"y":113.5},{"s":"400nm","g":2,"x":478,"y":112.6},{"s":"400nm","g":2,"x":480,"y":112},{"s":"400nm","g":2,"x":482,"y":111.4},{"s":"400nm","g":2,"x":485,"y":110.2},{"s":"400nm","g":2,"x":487,"y":109.4},{"s":"400nm","g":2,"x":489,"y":107.5},{"s":"400nm","g":2,"x":491,"y":105.5},{"s":"400nm","g":2,"x":493,"y":104},{"s":"400nm","g":2,"x":495,"y":102.3},{"s":"400nm","g":2,"x":497,"y":100.4},{"s":"400nm","g":2,"x":499,"y":98.3},{"s":"400nm","g":2,"x":501,"y":96},{"s":"400nm","g":2,"x":503,"y":93.6},{"s":"400nm","g":2,"x":505,"y":91.5},{"s":"400nm","g":2,"x":507,"y":89.6},{"s":"400nm","g":2,"x":509,"y":87.3},{"s":"400nm","g":2,"x":511,"y":84.9},{"s":"400nm","g":2,"x":513,"y":83},{"s":"400nm","g":2,"x":515,"y":80.9},{"s":"400nm","g":2,"x":517,"y":79.2},{"s":"400nm","g":2,"x":519,"y":77.8},{"s":"400nm","g":2,"x":521,"y":77},{"s":"400nm","g":2,"x":523,"y":76.2},{"s":"400nm","g":2,"x":525,"y":73.5},{"s":"400nm","g":2,"x":528,"y":70.6},{"s":"400nm","g":2,"x":531,"y":68.8},{"s":"400nm","g":2,"x":533,"y":67.5},{"s":"400nm","g":2,"x":536,"y":65.5},{"s":"400nm","g":2,"x":539,"y":63.5},{"s":"400nm","g":2,"x":541,"y":62},{"s":"400nm","g":2,"x":544,"y":60.3},{"s":"400nm","g":2,"x":546,"y":58.6},{"s":"400nm","g":2,"x":549,"y":57.2},{"s":"400nm","g":2,"x":551,"y":55.4},{"s":"400nm","g":2,"x":554,"y":53.2},{"s":"400nm","g":2,"x":557,"y":51},{"s":"400nm","g":2,"x":560,"y":48.5},{"s":"400nm","g":2,"x":562,"y":46.5},{"s":"400nm","g":2,"x":565,"y":44.5},{"s":"400nm","g":2,"x":568,"y":42.5},{"s":"400nm","g":2,"x":570,"y":40.5},{"s":"400nm","g":2,"x":573,"y":38},{"s":"400nm","g":2,"x":576,"y":35.5},{"s":"400nm","g":2,"x":579,"y":31.5},{"s":"400nm","g":2,"x":583,"y":26.9},{"s":"400nm","g":2,"x":587,"y":23.5},{"s":"400nm","g":2,"x":591,"y":20.6},{"s":"400nm","g":2,"x":594,"y":18.5},{"s":"400nm","g":2,"x":598,"y":16.6},{"s":"400nm","g":2,"x":600,"y":17.5},{"s":"400nm","g":2,"x":602,"y":22},{"s":"400nm","g":2,"x":604,"y":25.3},{"s":"400nm","g":2,"x":606,"y":20},{"s":"400nm","g":2,"x":608,"y":15},{"s":"400nm","g":2,"x":610,"y":11.8},{"s":"400nm","g":2,"x":612,"y":10},{"s":"400nm","g":2,"x":617,"y":8},{"s":"400nm","g":2,"x":623,"y":6.3},{"s":"400nm","g":2,"x":630,"y":4.8},{"s":"400nm","g":2,"x":640,"y":3.6},{"s":"400nm","g":2,"x":650,"y":2.9},{"s":"400nm","g":2,"x":660,"y":2.4},{"s":"400nm","g":2,"x":675,"y":2},{"s":"400nm","g":2,"x":690,"y":1.6},{"s":"400nm","g":2,"x":710,"y":1.5},{"s":"400nm","g":2,"x":730,"y":1.4},{"s":"400nm","g":2,"x":750,"y":1.3},{"s":"400nm","g":2,"x":770,"y":1.3},{"s":"400nm","g":2,"x":790,"y":1.2},{"s":"400nm","g":2,"x":800,"y":1.2},
{"s":"420nm","g":1,"x":222,"y":0.8},{"s":"420nm","g":1,"x":240,"y":0.9},{"s":"420nm","g":1,"x":260,"y":1},{"s":"420nm","g":1,"x":280,"y":1.1},{"s":"420nm","g":1,"x":300,"y":1.2},{"s":"420nm","g":1,"x":320,"y":1.4},{"s":"420nm","g":1,"x":335,"y":1.7},{"s":"420nm","g":1,"x":340,"y":1.9},{"s":"420nm","g":1,"x":344,"y":3},{"s":"420nm","g":1,"x":347,"y":4.3},{"s":"420nm","g":1,"x":350,"y":5},{"s":"420nm","g":1,"x":352,"y":5.1},{"s":"420nm","g":1,"x":355,"y":4.8},{"s":"420nm","g":1,"x":357,"y":4.6},{"s":"420nm","g":1,"x":360,"y":3.8},{"s":"420nm","g":1,"x":364,"y":3.1},{"s":"420nm","g":1,"x":367,"y":2.8},{"s":"420nm","g":1,"x":371,"y":2.5},{"s":"420nm","g":1,"x":375,"y":2.8},{"s":"420nm","g":1,"x":379,"y":3.3},{"s":"420nm","g":1,"x":383,"y":3.7},{"s":"420nm","g":1,"x":388,"y":3.9},{"s":"420nm","g":1,"x":392,"y":4.3},{"s":"420nm","g":1,"x":396,"y":4.8},{"s":"420nm","g":1,"x":399,"y":5.4},{"s":"420nm","g":1,"x":401,"y":6},
{"s":"420nm","g":2,"x":432,"y":64.7},{"s":"420nm","g":2,"x":434,"y":72},{"s":"420nm","g":2,"x":436,"y":78},{"s":"420nm","g":2,"x":438,"y":84.1},{"s":"420nm","g":2,"x":441,"y":92.8},{"s":"420nm","g":2,"x":443,"y":100.5},{"s":"420nm","g":2,"x":445,"y":108},{"s":"420nm","g":2,"x":447,"y":114},{"s":"420nm","g":2,"x":449,"y":120.1},{"s":"420nm","g":2,"x":451,"y":128},{"s":"420nm","g":2,"x":452,"y":135},{"s":"420nm","g":2,"x":454,"y":141.5},{"s":"420nm","g":2,"x":456,"y":147.5},{"s":"420nm","g":2,"x":458,"y":151.5},{"s":"420nm","g":2,"x":460,"y":155},{"s":"420nm","g":2,"x":461,"y":157.1},{"s":"420nm","g":2,"x":462,"y":155.9},{"s":"420nm","g":2,"x":464,"y":158.3},{"s":"420nm","g":2,"x":466,"y":160.5},{"s":"420nm","g":2,"x":468,"y":164},{"s":"420nm","g":2,"x":470,"y":167.5},{"s":"420nm","g":2,"x":472,"y":171.5},{"s":"420nm","g":2,"x":474,"y":175},{"s":"420nm","g":2,"x":476,"y":181.1},{"s":"420nm","g":2,"x":478,"y":180.2},{"s":"420nm","g":2,"x":480,"y":179.3},{"s":"420nm","g":2,"x":482,"y":176},{"s":"420nm","g":2,"x":483,"y":176.5},{"s":"420nm","g":2,"x":485,"y":177.5},{"s":"420nm","g":2,"x":487,"y":178},{"s":"420nm","g":2,"x":488,"y":178.7},{"s":"420nm","g":2,"x":490,"y":180.2},{"s":"420nm","g":2,"x":492,"y":176.3},{"s":"420nm","g":2,"x":494,"y":172},{"s":"420nm","g":2,"x":495,"y":169.8},{"s":"420nm","g":2,"x":497,"y":165.5},{"s":"420nm","g":2,"x":499,"y":163.5},{"s":"420nm","g":2,"x":501,"y":162.7},{"s":"420nm","g":2,"x":503,"y":161},{"s":"420nm","g":2,"x":505,"y":159.5},{"s":"420nm","g":2,"x":506,"y":156},{"s":"420nm","g":2,"x":507,"y":150.9},{"s":"420nm","g":2,"x":510,"y":147.4},{"s":"420nm","g":2,"x":512,"y":143.2},{"s":"420nm","g":2,"x":515,"y":139.7},{"s":"420nm","g":2,"x":517,"y":136.5},{"s":"420nm","g":2,"x":520,"y":129},{"s":"420nm","g":2,"x":523,"y":122.5},{"s":"420nm","g":2,"x":527,"y":116},{"s":"420nm","g":2,"x":530,"y":111.7},{"s":"420nm","g":2,"x":533,"y":108.5},{"s":"420nm","g":2,"x":536,"y":106.1},{"s":"420nm","g":2,"x":539,"y":102.5},{"s":"420nm","g":2,"x":542,"y":99},{"s":"420nm","g":2,"x":545,"y":95.5},{"s":"420nm","g":2,"x":547,"y":92.6},{"s":"420nm","g":2,"x":550,"y":89.5},{"s":"420nm","g":2,"x":553,"y":86.3},{"s":"420nm","g":2,"x":556,"y":81.5},{"s":"420nm","g":2,"x":559,"y":77.6},{"s":"420nm","g":2,"x":562,"y":74},{"s":"420nm","g":2,"x":564,"y":71.3},{"s":"420nm","g":2,"x":567,"y":67.5},{"s":"420nm","g":2,"x":570,"y":64.1},{"s":"420nm","g":2,"x":572,"y":59},{"s":"420nm","g":2,"x":574,"y":56},{"s":"420nm","g":2,"x":577,"y":51.5},{"s":"420nm","g":2,"x":579,"y":48.3},{"s":"420nm","g":2,"x":582,"y":44},{"s":"420nm","g":2,"x":585,"y":40.4},{"s":"420nm","g":2,"x":588,"y":35.5},{"s":"420nm","g":2,"x":591,"y":30.9},{"s":"420nm","g":2,"x":594,"y":27},{"s":"420nm","g":2,"x":596,"y":24.5},{"s":"420nm","g":2,"x":599,"y":22},{"s":"420nm","g":2,"x":602,"y":19.8},{"s":"420nm","g":2,"x":606,"y":17.2},{"s":"420nm","g":2,"x":610,"y":15},{"s":"420nm","g":2,"x":614,"y":13.2},{"s":"420nm","g":2,"x":617,"y":11.9},{"s":"420nm","g":2,"x":622,"y":10.3},{"s":"420nm","g":2,"x":627,"y":9},{"s":"420nm","g":2,"x":630,"y":10.5},{"s":"420nm","g":2,"x":632,"y":13.5},{"s":"420nm","g":2,"x":634,"y":16},{"s":"420nm","g":2,"x":636,"y":13},{"s":"420nm","g":2,"x":638,"y":8.5},{"s":"420nm","g":2,"x":640,"y":6.3},{"s":"420nm","g":2,"x":644,"y":4.5},{"s":"420nm","g":2,"x":648,"y":3.6},{"s":"420nm","g":2,"x":655,"y":2.8},{"s":"420nm","g":2,"x":665,"y":2},{"s":"420nm","g":2,"x":680,"y":1.4},{"s":"420nm","g":2,"x":700,"y":1.1},{"s":"420nm","g":2,"x":720,"y":1},{"s":"420nm","g":2,"x":740,"y":0.9},{"s":"420nm","g":2,"x":760,"y":0.9},{"s":"420nm","g":2,"x":780,"y":0.8},{"s":"420nm","g":2,"x":800,"y":0.7},
{"s":"440nm","g":1,"x":222,"y":1.2},{"s":"440nm","g":1,"x":240,"y":1.3},{"s":"440nm","g":1,"x":260,"y":1.4},{"s":"440nm","g":1,"x":280,"y":1.5},{"s":"440nm","g":1,"x":300,"y":1.6},{"s":"440nm","g":1,"x":320,"y":1.8},{"s":"440nm","g":1,"x":335,"y":2.1},{"s":"440nm","g":1,"x":340,"y":2.6},{"s":"440nm","g":1,"x":344,"y":3.6},{"s":"440nm","g":1,"x":347,"y":4.6},{"s":"440nm","g":1,"x":350,"y":5.3},{"s":"440nm","g":1,"x":353,"y":5.4},{"s":"440nm","g":1,"x":356,"y":5},{"s":"440nm","g":1,"x":359,"y":4.5},{"s":"440nm","g":1,"x":362,"y":3.8},{"s":"440nm","g":1,"x":366,"y":3.3},{"s":"440nm","g":1,"x":370,"y":3},{"s":"440nm","g":1,"x":375,"y":3},{"s":"440nm","g":1,"x":380,"y":3.1},{"s":"440nm","g":1,"x":385,"y":3.2},{"s":"440nm","g":1,"x":390,"y":3.3},{"s":"440nm","g":1,"x":395,"y":3.5},{"s":"440nm","g":1,"x":399,"y":4},{"s":"440nm","g":1,"x":402,"y":5.4},{"s":"440nm","g":1,"x":406,"y":5.6},{"s":"440nm","g":1,"x":409,"y":5.9},{"s":"440nm","g":1,"x":412,"y":6},{"s":"440nm","g":1,"x":415,"y":6.4},{"s":"440nm","g":1,"x":418,"y":6.9},
{"s":"440nm","g":2,"x":452,"y":128.4},{"s":"440nm","g":2,"x":454,"y":130.8},{"s":"440nm","g":2,"x":455.5,"y":131.5},{"s":"440nm","g":2,"x":457,"y":132.9},{"s":"440nm","g":2,"x":459,"y":131.8},{"s":"440nm","g":2,"x":461.5,"y":135.8},{"s":"440nm","g":2,"x":463.5,"y":144.4},{"s":"440nm","g":2,"x":465,"y":159.2},{"s":"440nm","g":2,"x":467,"y":172.8},{"s":"440nm","g":2,"x":468.5,"y":181.7},{"s":"440nm","g":2,"x":470,"y":189},{"s":"440nm","g":2,"x":472,"y":195},{"s":"440nm","g":2,"x":474,"y":200},{"s":"440nm","g":2,"x":476,"y":205.3},{"s":"440nm","g":2,"x":478,"y":212},{"s":"440nm","g":2,"x":480,"y":218.5},{"s":"440nm","g":2,"x":481,"y":219.8},{"s":"440nm","g":2,"x":482,"y":219.6},{"s":"440nm","g":2,"x":483.4,"y":222.4},{"s":"440nm","g":2,"x":485.6,"y":218.3},{"s":"440nm","g":2,"x":487.6,"y":215.9},{"s":"440nm","g":2,"x":489.6,"y":212.4},{"s":"440nm","g":2,"x":491,"y":213},{"s":"440nm","g":2,"x":492.2,"y":211.8},{"s":"440nm","g":2,"x":494.2,"y":215.3},{"s":"440nm","g":2,"x":496.9,"y":216.5},{"s":"440nm","g":2,"x":498.2,"y":217.1},{"s":"440nm","g":2,"x":500.8,"y":211.2},{"s":"440nm","g":2,"x":502.5,"y":210.5},{"s":"440nm","g":2,"x":504.8,"y":210},{"s":"440nm","g":2,"x":506.8,"y":208.8},{"s":"440nm","g":2,"x":510.1,"y":208.2},{"s":"440nm","g":2,"x":512.1,"y":204.1},{"s":"440nm","g":2,"x":514,"y":199.4},{"s":"440nm","g":2,"x":516,"y":193.5},{"s":"440nm","g":2,"x":518,"y":182.8},{"s":"440nm","g":2,"x":520.6,"y":176.9},{"s":"440nm","g":2,"x":523.3,"y":175.7},{"s":"440nm","g":2,"x":525.9,"y":172.2},{"s":"440nm","g":2,"x":528.6,"y":167.4},{"s":"440nm","g":2,"x":530.5,"y":163},{"s":"440nm","g":2,"x":533,"y":158},{"s":"440nm","g":2,"x":536,"y":152},{"s":"440nm","g":2,"x":539,"y":147},{"s":"440nm","g":2,"x":542,"y":139},{"s":"440nm","g":2,"x":545,"y":132},{"s":"440nm","g":2,"x":548,"y":126},{"s":"440nm","g":2,"x":551,"y":119.6},{"s":"440nm","g":2,"x":553.5,"y":116},{"s":"440nm","g":2,"x":556.8,"y":111.7},{"s":"440nm","g":2,"x":559.5,"y":106},{"s":"440nm","g":2,"x":562.4,"y":99.8},{"s":"440nm","g":2,"x":565,"y":95},{"s":"440nm","g":2,"x":568.1,"y":89.5},{"s":"440nm","g":2,"x":571,"y":84},{"s":"440nm","g":2,"x":573.7,"y":80},{"s":"440nm","g":2,"x":576.5,"y":74.5},{"s":"440nm","g":2,"x":579.4,"y":68.9},{"s":"440nm","g":2,"x":582,"y":63.5},{"s":"440nm","g":2,"x":585.1,"y":57.8},{"s":"440nm","g":2,"x":588,"y":52},{"s":"440nm","g":2,"x":590.7,"y":46.7},{"s":"440nm","g":2,"x":593.5,"y":41.5},{"s":"440nm","g":2,"x":596.4,"y":36.4},{"s":"440nm","g":2,"x":599,"y":32.5},{"s":"440nm","g":2,"x":602,"y":28.5},{"s":"440nm","g":2,"x":605,"y":24.5},{"s":"440nm","g":2,"x":607.7,"y":21.4},{"s":"440nm","g":2,"x":612,"y":19.2},{"s":"440nm","g":2,"x":617,"y":16},{"s":"440nm","g":2,"x":622,"y":14},{"s":"440nm","g":2,"x":628,"y":12.3},{"s":"440nm","g":2,"x":634,"y":10.8},{"s":"440nm","g":2,"x":640,"y":9.2},{"s":"440nm","g":2,"x":645,"y":7.8},{"s":"440nm","g":2,"x":651,"y":6.4},{"s":"440nm","g":2,"x":656,"y":5.4},{"s":"440nm","g":2,"x":659,"y":5.3},{"s":"440nm","g":2,"x":661,"y":7.5},{"s":"440nm","g":2,"x":663,"y":10.5},{"s":"440nm","g":2,"x":664.5,"y":11.9},{"s":"440nm","g":2,"x":666,"y":10},{"s":"440nm","g":2,"x":668,"y":6},{"s":"440nm","g":2,"x":671,"y":3.8},{"s":"440nm","g":2,"x":675,"y":3},{"s":"440nm","g":2,"x":682,"y":2.3},{"s":"440nm","g":2,"x":690,"y":1.9},{"s":"440nm","g":2,"x":700,"y":1.7},{"s":"440nm","g":2,"x":720,"y":1.6},{"s":"440nm","g":2,"x":740,"y":1.5},{"s":"440nm","g":2,"x":760,"y":1.5},{"s":"440nm","g":2,"x":780,"y":1.4},{"s":"440nm","g":2,"x":800,"y":1.4},
{"s":"460nm","g":1,"x":222,"y":1.3},{"s":"460nm","g":1,"x":240,"y":1.4},{"s":"460nm","g":1,"x":260,"y":1.5},{"s":"460nm","g":1,"x":280,"y":1.6},{"s":"460nm","g":1,"x":300,"y":1.7},{"s":"460nm","g":1,"x":320,"y":1.9},{"s":"460nm","g":1,"x":335,"y":2.2},{"s":"460nm","g":1,"x":340,"y":2.7},{"s":"460nm","g":1,"x":344,"y":3.7},{"s":"460nm","g":1,"x":347,"y":4.5},{"s":"460nm","g":1,"x":350,"y":5},{"s":"460nm","g":1,"x":353,"y":5.1},{"s":"460nm","g":1,"x":356,"y":4.7},{"s":"460nm","g":1,"x":359,"y":4.2},{"s":"460nm","g":1,"x":362,"y":3.6},{"s":"460nm","g":1,"x":366,"y":3.1},{"s":"460nm","g":1,"x":370,"y":2.9},{"s":"460nm","g":1,"x":380,"y":3},{"s":"460nm","g":1,"x":390,"y":3.1},{"s":"460nm","g":1,"x":400,"y":3.2},{"s":"460nm","g":1,"x":405,"y":3.3},{"s":"460nm","g":1,"x":410,"y":4},{"s":"460nm","g":1,"x":413,"y":5},{"s":"460nm","g":1,"x":416,"y":6},{"s":"460nm","g":1,"x":420,"y":6.3},{"s":"460nm","g":1,"x":425,"y":6.4},{"s":"460nm","g":1,"x":430,"y":6.6},{"s":"460nm","g":1,"x":433,"y":7},{"s":"460nm","g":1,"x":436,"y":7.8},{"s":"460nm","g":1,"x":439,"y":9.5},{"s":"460nm","g":1,"x":441,"y":11.9},{"s":"460nm","g":1,"x":443,"y":14},{"s":"460nm","g":1,"x":445,"y":16.7},{"s":"460nm","g":1,"x":447,"y":20.5},{"s":"460nm","g":1,"x":448,"y":23.8},{"s":"460nm","g":1,"x":449.5,"y":30},{"s":"460nm","g":1,"x":450.5,"y":38},{"s":"460nm","g":1,"x":451.5,"y":47},{"s":"460nm","g":1,"x":452,"y":55},
{"s":"460nm","g":2,"x":477.4,"y":165.7},{"s":"460nm","g":2,"x":479.5,"y":168},{"s":"460nm","g":2,"x":481,"y":175.7},{"s":"460nm","g":2,"x":482.3,"y":181.6},{"s":"460nm","g":2,"x":483.6,"y":187.6},{"s":"460nm","g":2,"x":485,"y":194.6},{"s":"460nm","g":2,"x":486.3,"y":200.6},{"s":"460nm","g":2,"x":487.6,"y":206.5},{"s":"460nm","g":2,"x":488.9,"y":212.4},{"s":"460nm","g":2,"x":490.3,"y":218.3},{"s":"460nm","g":2,"x":491.6,"y":224.2},{"s":"460nm","g":2,"x":493.6,"y":228.9},{"s":"460nm","g":2,"x":495.5,"y":233.1},{"s":"460nm","g":2,"x":496.9,"y":236.6},{"s":"460nm","g":2,"x":498.8,"y":239},{"s":"460nm","g":2,"x":500.4,"y":241.4},{"s":"460nm","g":2,"x":501.5,"y":238.8},{"s":"460nm","g":2,"x":502.8,"y":239.9},{"s":"460nm","g":2,"x":503.5,"y":236.6},{"s":"460nm","g":2,"x":505.4,"y":237.2},{"s":"460nm","g":2,"x":506.1,"y":234.9},{"s":"460nm","g":2,"x":508.1,"y":233.1},{"s":"460nm","g":2,"x":510.1,"y":231.3},{"s":"460nm","g":2,"x":512.1,"y":229.5},{"s":"460nm","g":2,"x":514,"y":223},{"s":"460nm","g":2,"x":516,"y":218.3},{"s":"460nm","g":2,"x":518,"y":213.6},{"s":"460nm","g":2,"x":520,"y":211.8},{"s":"460nm","g":2,"x":522.6,"y":209.7},{"s":"460nm","g":2,"x":524.5,"y":211},{"s":"460nm","g":2,"x":525.9,"y":211.8},{"s":"460nm","g":2,"x":527.9,"y":203.5},{"s":"460nm","g":2,"x":529.2,"y":201.7},{"s":"460nm","g":2,"x":531.2,"y":198.8},{"s":"460nm","g":2,"x":533.2,"y":197.6},{"s":"460nm","g":2,"x":535.2,"y":193.5},{"s":"460nm","g":2,"x":537.8,"y":189.3},{"s":"460nm","g":2,"x":540.4,"y":185.2},{"s":"460nm","g":2,"x":543.1,"y":178.7},{"s":"460nm","g":2,"x":545.7,"y":175.1},{"s":"460nm","g":2,"x":548.4,"y":169.8},{"s":"460nm","g":2,"x":550.4,"y":164},{"s":"460nm","g":2,"x":553,"y":158},{"s":"460nm","g":2,"x":556,"y":150},{"s":"460nm","g":2,"x":559,"y":142},{"s":"460nm","g":2,"x":562,"y":134},{"s":"460nm","g":2,"x":565,"y":127},{"s":"460nm","g":2,"x":568,"y":119.6},{"s":"460nm","g":2,"x":571,"y":110},{"s":"460nm","g":2,"x":574,"y":101},{"s":"460nm","g":2,"x":577,"y":92},{"s":"460nm","g":2,"x":580,"y":84},{"s":"460nm","g":2,"x":583,"y":76},{"s":"460nm","g":2,"x":586,"y":68.5},{"s":"460nm","g":2,"x":589,"y":61.5},{"s":"460nm","g":2,"x":592,"y":55},{"s":"460nm","g":2,"x":595,"y":49},{"s":"460nm","g":2,"x":598,"y":43.5},{"s":"460nm","g":2,"x":601,"y":38.5},{"s":"460nm","g":2,"x":604,"y":34},{"s":"460nm","g":2,"x":607,"y":30.5},{"s":"460nm","g":2,"x":611.5,"y":25.6},{"s":"460nm","g":2,"x":615,"y":22},{"s":"460nm","g":2,"x":619.4,"y":19},{"s":"460nm","g":2,"x":624.7,"y":16.7},{"s":"460nm","g":2,"x":632.6,"y":14},{"s":"460nm","g":2,"x":640.6,"y":11.4},{"s":"460nm","g":2,"x":651,"y":8.4},{"s":"460nm","g":2,"x":658,"y":6.7},{"s":"460nm","g":2,"x":664.3,"y":5.4},{"s":"460nm","g":2,"x":670,"y":4.3},{"s":"460nm","g":2,"x":677.5,"y":3.4},{"s":"460nm","g":2,"x":685,"y":2.7},{"s":"460nm","g":2,"x":689,"y":2.6},{"s":"460nm","g":2,"x":691,"y":5},{"s":"460nm","g":2,"x":693,"y":9},{"s":"460nm","g":2,"x":694.5,"y":11.6},{"s":"460nm","g":2,"x":696,"y":9.5},{"s":"460nm","g":2,"x":698,"y":4.5},{"s":"460nm","g":2,"x":700,"y":2.4},{"s":"460nm","g":2,"x":705,"y":2},{"s":"460nm","g":2,"x":715,"y":1.8},{"s":"460nm","g":2,"x":730,"y":1.6},{"s":"460nm","g":2,"x":750,"y":1.5},{"s":"460nm","g":2,"x":770,"y":1.4},{"s":"460nm","g":2,"x":800,"y":1.3},
{"s":"480nm","g":1,"x":222,"y":1.4},{"s":"480nm","g":1,"x":240,"y":1.5},{"s":"480nm","g":1,"x":260,"y":1.6},{"s":"480nm","g":1,"x":280,"y":1.7},{"s":"480nm","g":1,"x":300,"y":1.8},{"s":"480nm","g":1,"x":320,"y":2},{"s":"480nm","g":1,"x":335,"y":2.3},{"s":"480nm","g":1,"x":340,"y":2.7},{"s":"480nm","g":1,"x":344,"y":3.5},{"s":"480nm","g":1,"x":347,"y":4.2},{"s":"480nm","g":1,"x":350,"y":4.6},{"s":"480nm","g":1,"x":353,"y":4.8},{"s":"480nm","g":1,"x":356,"y":4.5},{"s":"480nm","g":1,"x":359,"y":4.2},{"s":"480nm","g":1,"x":362,"y":3.8},{"s":"480nm","g":1,"x":366,"y":3.4},{"s":"480nm","g":1,"x":370,"y":3.3},{"s":"480nm","g":1,"x":380,"y":3.4},{"s":"480nm","g":1,"x":390,"y":3.5},{"s":"480nm","g":1,"x":400,"y":3.6},{"s":"480nm","g":1,"x":410,"y":3.7},{"s":"480nm","g":1,"x":416,"y":3.7},{"s":"480nm","g":1,"x":425,"y":3.8},{"s":"480nm","g":1,"x":433,"y":4.3},{"s":"480nm","g":1,"x":436,"y":5.5},{"s":"480nm","g":1,"x":438,"y":6.6},{"s":"480nm","g":1,"x":441,"y":7.2},{"s":"480nm","g":1,"x":444.8,"y":7.6},{"s":"480nm","g":1,"x":447,"y":7.9},{"s":"480nm","g":1,"x":450,"y":8.2},{"s":"480nm","g":1,"x":453,"y":8.9},{"s":"480nm","g":1,"x":455,"y":9.6},{"s":"480nm","g":1,"x":457,"y":11},{"s":"480nm","g":1,"x":459,"y":12.8},{"s":"480nm","g":1,"x":461,"y":16},{"s":"480nm","g":1,"x":463,"y":21},{"s":"480nm","g":1,"x":465,"y":28},{"s":"480nm","g":1,"x":467,"y":37},{"s":"480nm","g":1,"x":468.5,"y":45},{"s":"480nm","g":1,"x":470,"y":53},{"s":"480nm","g":1,"x":471.3,"y":63.5},
{"s":"480nm","g":2,"x":492.5,"y":175.1},{"s":"480nm","g":2,"x":494.2,"y":177.8},{"s":"480nm","g":2,"x":496.1,"y":178.4},{"s":"480nm","g":2,"x":497.8,"y":177.6},{"s":"480nm","g":2,"x":499.6,"y":179.9},{"s":"480nm","g":2,"x":502.1,"y":179},{"s":"480nm","g":2,"x":504,"y":179.3},{"s":"480nm","g":2,"x":505.5,"y":181.7},{"s":"480nm","g":2,"x":507,"y":186.4},{"s":"480nm","g":2,"x":508.7,"y":195.8},{"s":"480nm","g":2,"x":510.7,"y":203.5},{"s":"480nm","g":2,"x":512,"y":205.9},{"s":"480nm","g":2,"x":514,"y":214.2},{"s":"480nm","g":2,"x":516,"y":218.3},{"s":"480nm","g":2,"x":517.3,"y":221.3},{"s":"480nm","g":2,"x":519,"y":223},{"s":"480nm","g":2,"x":520.6,"y":227.2},{"s":"480nm","g":2,"x":522,"y":226},{"s":"480nm","g":2,"x":523.7,"y":227.8},{"s":"480nm","g":2,"x":525.3,"y":226.6},{"s":"480nm","g":2,"x":526.6,"y":221.9},{"s":"480nm","g":2,"x":528.6,"y":220.4},{"s":"480nm","g":2,"x":531.2,"y":218.6},{"s":"480nm","g":2,"x":533.2,"y":218.3},{"s":"480nm","g":2,"x":535.2,"y":215.9},{"s":"480nm","g":2,"x":537.1,"y":211.2},{"s":"480nm","g":2,"x":539.1,"y":205.9},{"s":"480nm","g":2,"x":541.8,"y":199.4},{"s":"480nm","g":2,"x":544.4,"y":194.1},{"s":"480nm","g":2,"x":547.1,"y":190.5},{"s":"480nm","g":2,"x":549.7,"y":187.6},{"s":"480nm","g":2,"x":552.3,"y":183.4},{"s":"480nm","g":2,"x":555,"y":177.5},{"s":"480nm","g":2,"x":557.6,"y":173.9},{"s":"480nm","g":2,"x":560.3,"y":169.8},{"s":"480nm","g":2,"x":562.9,"y":164.5},{"s":"480nm","g":2,"x":565,"y":158},{"s":"480nm","g":2,"x":567.5,"y":151},{"s":"480nm","g":2,"x":570,"y":144},{"s":"480nm","g":2,"x":572.5,"y":136},{"s":"480nm","g":2,"x":575,"y":128},{"s":"480nm","g":2,"x":577.5,"y":119.6},{"s":"480nm","g":2,"x":579.5,"y":111},{"s":"480nm","g":2,"x":581.3,"y":103.7},{"s":"480nm","g":2,"x":583,"y":97},{"s":"480nm","g":2,"x":585.1,"y":91.9},{"s":"480nm","g":2,"x":587,"y":86},{"s":"480nm","g":2,"x":588.8,"y":80.5},{"s":"480nm","g":2,"x":591,"y":72},{"s":"480nm","g":2,"x":594.5,"y":62},{"s":"480nm","g":2,"x":598.3,"y":54.6},{"s":"480nm","g":2,"x":601,"y":49},{"s":"480nm","g":2,"x":603.9,"y":43.5},{"s":"480nm","g":2,"x":606.7,"y":39.5},{"s":"480nm","g":2,"x":609.6,"y":35.6},{"s":"480nm","g":2,"x":612.5,"y":32},{"s":"480nm","g":2,"x":615.3,"y":28.5},{"s":"480nm","g":2,"x":619,"y":25},{"s":"480nm","g":2,"x":622.8,"y":22.2},{"s":"480nm","g":2,"x":626.5,"y":19.5},{"s":"480nm","g":2,"x":630.3,"y":17.4},{"s":"480nm","g":2,"x":635,"y":15.1},{"s":"480nm","g":2,"x":639.8,"y":13.1},{"s":"480nm","g":2,"x":645,"y":11},{"s":"480nm","g":2,"x":651,"y":8.7},{"s":"480nm","g":2,"x":656,"y":7},{"s":"480nm","g":2,"x":662.4,"y":5.5},{"s":"480nm","g":2,"x":668,"y":4.4},{"s":"480nm","g":2,"x":673.7,"y":3.6},{"s":"480nm","g":2,"x":683,"y":3.1},{"s":"480nm","g":2,"x":692,"y":2.8},{"s":"480nm","g":2,"x":702,"y":2.6},{"s":"480nm","g":2,"x":711,"y":2.4},{"s":"480nm","g":2,"x":716,"y":2.4},{"s":"480nm","g":2,"x":720,"y":4},{"s":"480nm","g":2,"x":722,"y":8},{"s":"480nm","g":2,"x":724.7,"y":13.6},{"s":"480nm","g":2,"x":727,"y":9},{"s":"480nm","g":2,"x":729.5,"y":3},{"s":"480nm","g":2,"x":732,"y":2.2},{"s":"480nm","g":2,"x":740,"y":2},{"s":"480nm","g":2,"x":755,"y":1.8},{"s":"480nm","g":2,"x":770,"y":1.7},{"s":"480nm","g":2,"x":785,"y":1.6},{"s":"480nm","g":2,"x":800,"y":1.6}
]},
"mark":{"type":"line","strokeWidth":3.5},
"encoding":{
"x":{"field":"x","type":"quantitative","scale":{"domain":[150,839.3],"nice":false,"zero":false},
"axis":{"orient":"bottom","values":[150,200,250,300,350,400,450,500,550,600,650,700,750,800],"labelExpr":"datum.value % 100 === 0 ? datum.label : ''","tickSize":{"condition":{"test":"datum.value % 100 !== 0","value":18},"value":36},"labelPadding":25,"title":"Wavelength(nm)","titleX":1170,"titleY":183}},
"y":{"field":"y","type":"quantitative","scale":{"domain":[-10,300],"nice":false,"zero":false},
"axis":{"values":[0,25,50,75,100,125,150,175,200,225,250,275,300],"labelExpr":"datum.value % 50 === 0 ? datum.label : ''","tickSize":{"condition":{"test":"datum.value % 50 !== 0","value":18},"value":35},"labelPadding":24,"title":"Intensity","titleFontSize":85,"titleX":-279,"titleY":849}},
"color":{"field":"s","type":"nominal","scale":{"domain":["220nm","240nm","260nm","280nm","300nm","320nm","340nm","360nm","380nm","400nm","420nm","440nm","460nm","480nm"],"range":["#000000","#ff0000","#00ff00","#0000ff","#00ffff","#ff00ff","#ffff00","#808000","#000080","#800080","#800000","#008000","#008080","#0000a0"]},
"legend":{"title":null,"orient":"none","legendX":1804,"legendY":52.5,"padding":0,"symbolType":"M-1,0H3.494","symbolSize":7225,"symbolStrokeWidth":2.5,"labelFont":"Liberation Sans","labelFontSize":85,"labelColor":"black","labelOffset":132,"labelLimit":0,"rowPadding":18}},
"detail":{"field":"g","type":"nominal"}
}},
{"data":{"values":[{"k":1}]},
"mark":{"type":"rule","strokeOpacity":0},
"encoding":{"x":{"datum":150,"type":"quantitative","axis":{"orient":"top","domain":true,"ticks":false,"labels":false,"title":null,"grid":false}}}}
],
"resolve":{"axis":{"x":"independent"}}
}
